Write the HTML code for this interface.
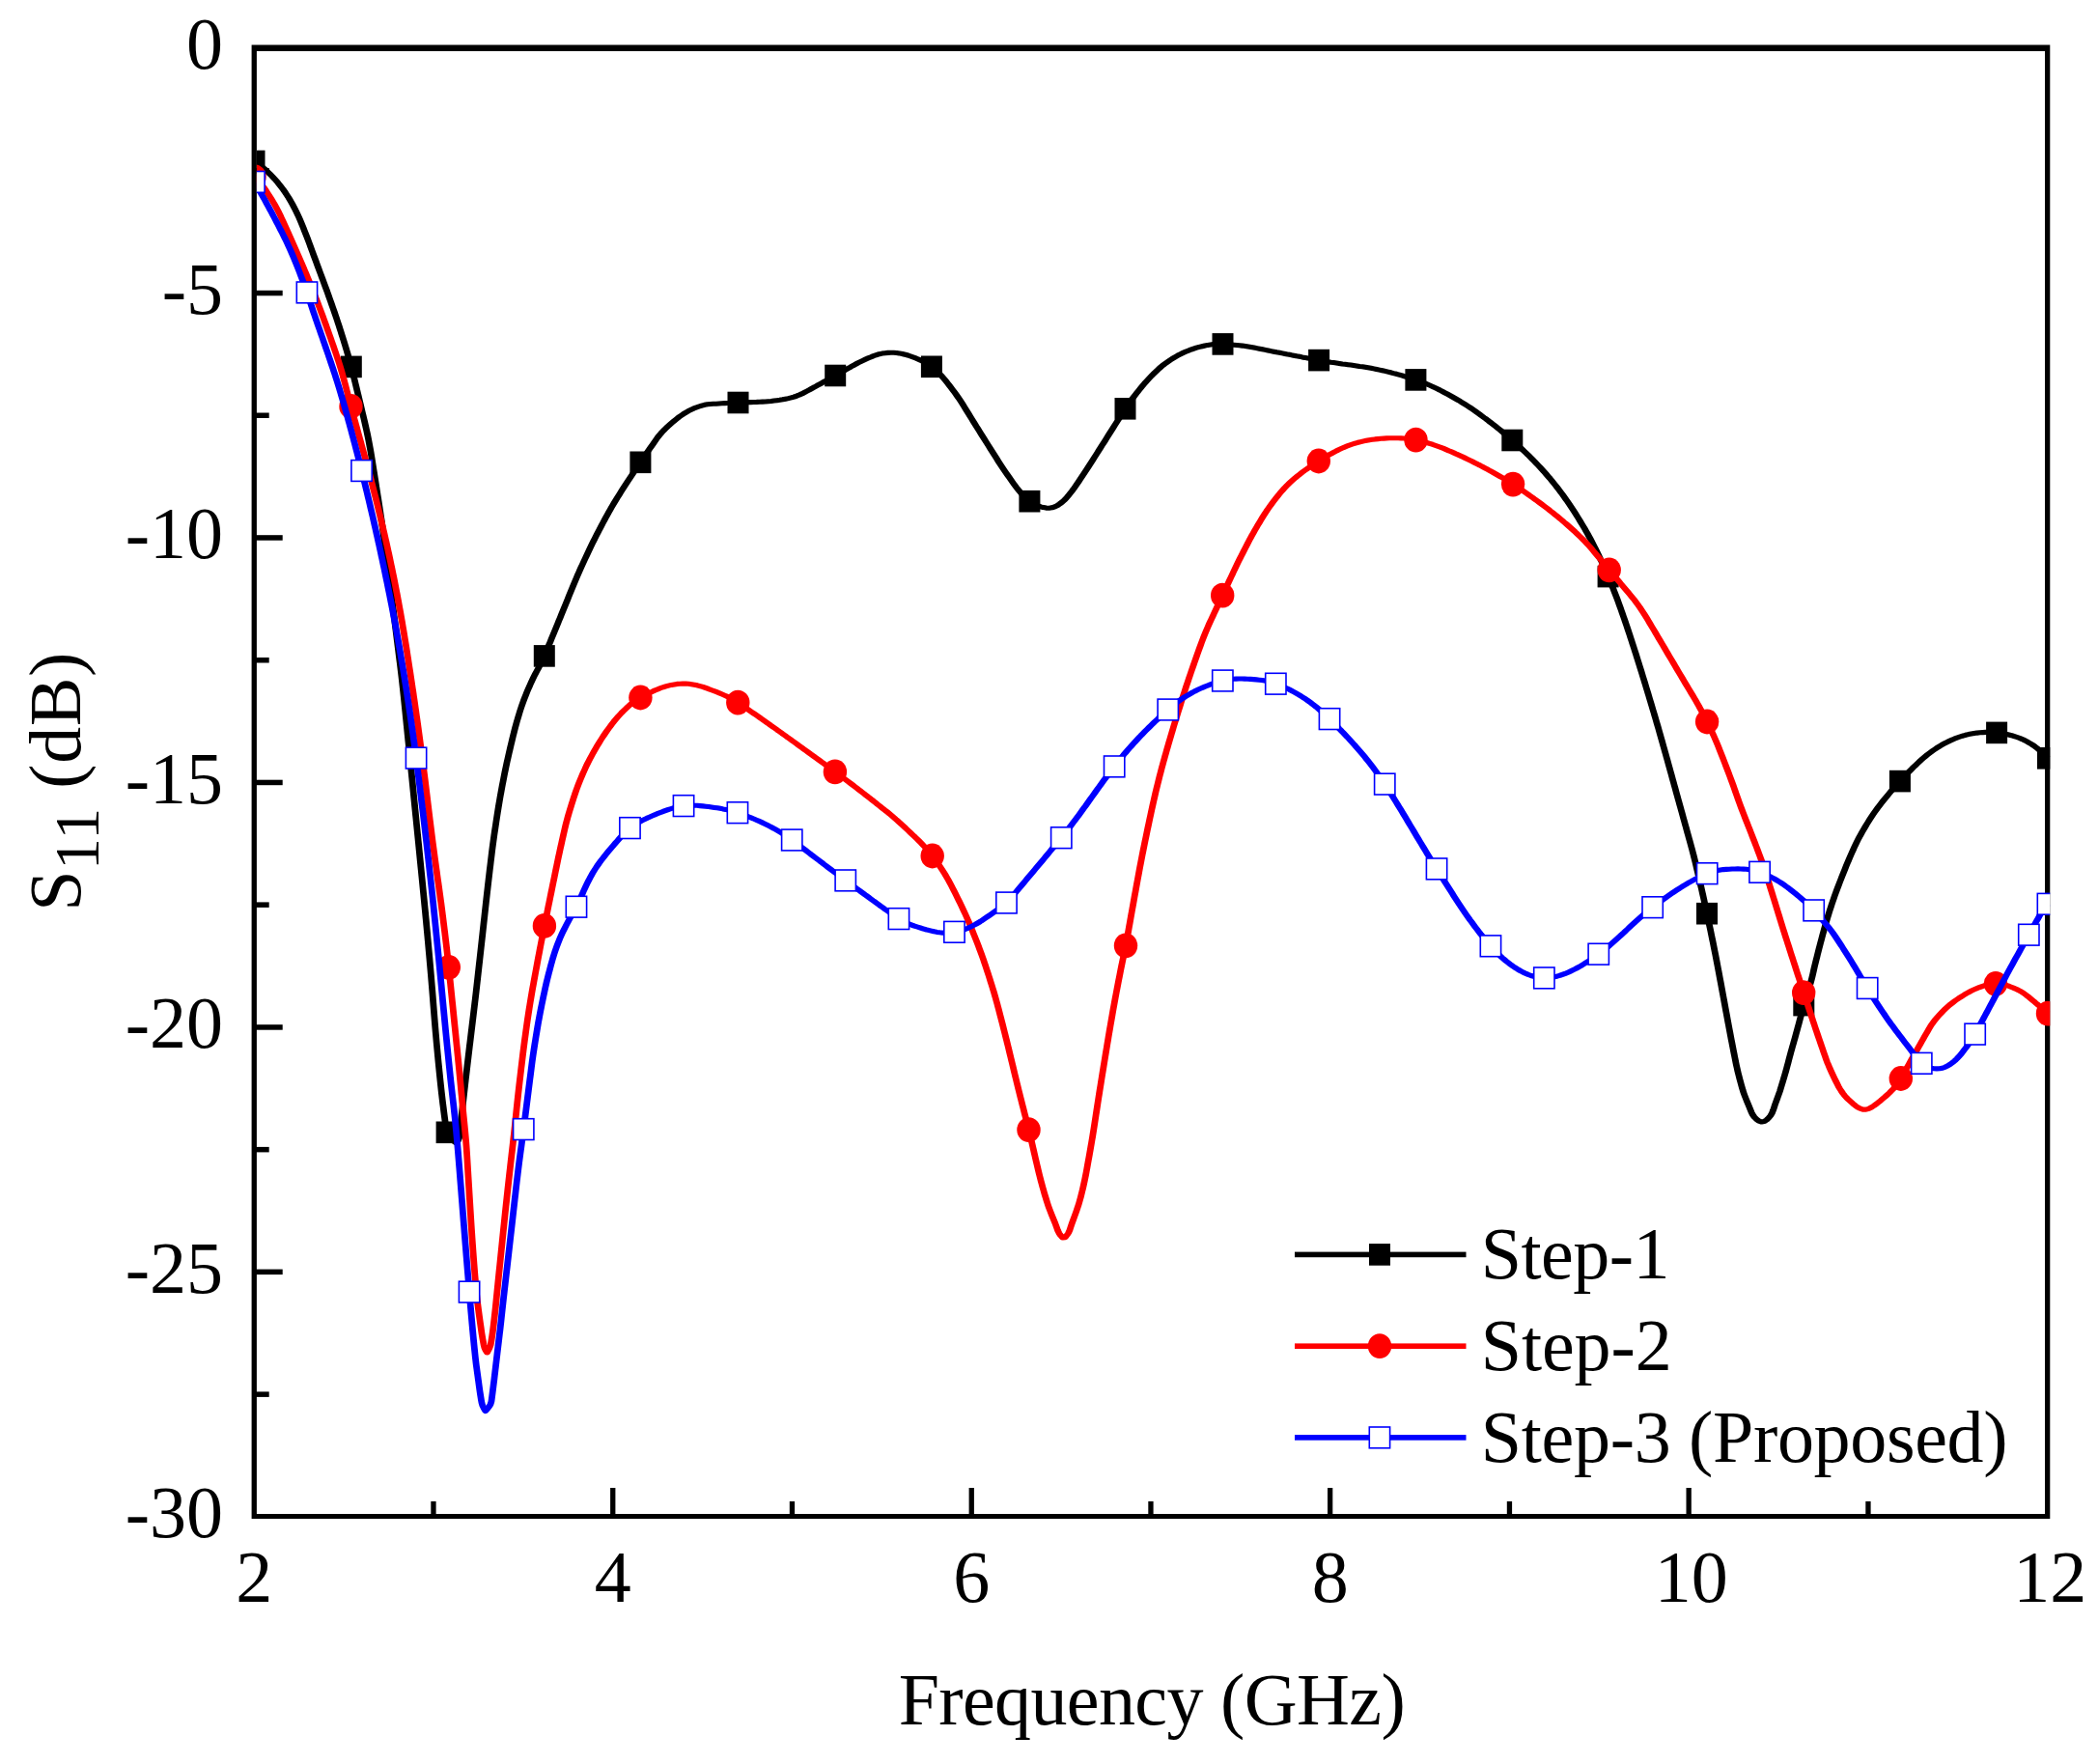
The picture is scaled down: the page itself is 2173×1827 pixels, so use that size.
<!DOCTYPE html>
<html lang="en"><head><meta charset="utf-8"><title>S11 versus Frequency</title>
<style>html,body{margin:0;padding:0;background:#fff}svg{display:block}text{font-family:"Liberation Serif", "Times New Roman", Times, serif;fill:#000}</style></head><body>
<svg xmlns="http://www.w3.org/2000/svg" width="2173" height="1827" viewBox="0 0 2173 1827">
<rect width="2173" height="1827" fill="#fff"/>
<defs><clipPath id="c"><rect x="265.9" y="46.4" width="1857.4" height="1526.6"/></clipPath></defs>
<path fill-rule="evenodd" fill="#000" d="M260.6 46.4H2123.3V1573H260.6Z M265.9 52.9V1567.9H2118V52.9Z"/>
<rect x="446.3" y="1555" width="5.3" height="15.5"/><rect x="632.1" y="1541" width="5.3" height="29.5"/><rect x="817.8" y="1555" width="5.3" height="15.5"/><rect x="1003.6" y="1541" width="5.3" height="29.5"/><rect x="1189.3" y="1555" width="5.3" height="15.5"/><rect x="1375" y="1541" width="5.3" height="29.5"/><rect x="1560.8" y="1555" width="5.3" height="15.5"/><rect x="1746.5" y="1541" width="5.3" height="29.5"/><rect x="1932.3" y="1555" width="5.3" height="15.5"/>
<rect x="263.2" y="174" width="15.5" height="5.5"/><rect x="263.2" y="300.8" width="29.5" height="5.5"/><rect x="263.2" y="427.5" width="15.5" height="5.5"/><rect x="263.2" y="554.2" width="29.5" height="5.5"/><rect x="263.2" y="681" width="15.5" height="5.5"/><rect x="263.2" y="807.7" width="29.5" height="5.5"/><rect x="263.2" y="934.4" width="15.5" height="5.5"/><rect x="263.2" y="1061.2" width="29.5" height="5.5"/><rect x="263.2" y="1187.9" width="15.5" height="5.5"/><rect x="263.2" y="1314.6" width="29.5" height="5.5"/><rect x="263.2" y="1441.4" width="15.5" height="5.5"/>
<g clip-path="url(#c)">
<g transform="scale(1.33 1)"><path d="M198.12 167 199.98 168.7 201.8 170.5 203.58 172.3 205.32 174.2 207.01 176.2 208.67 178.3 210.28 180.4 211.86 182.5 213.41 184.7 214.92 186.9 216.38 189.2 217.8 191.6 219.18 193.9 220.53 196.3 221.84 198.8 223.12 201.3 224.34 203.8 225.52 206.4 226.65 209 227.73 211.6 228.79 214.2 229.83 216.9 230.85 219.6 231.83 222.3 232.78 225 233.68 227.8 234.54 230.6 235.39 233.3 236.24 236.1 237.08 238.9 237.91 241.7 238.74 244.5 239.55 247.3 240.35 250.1 241.13 252.9 241.91 255.7 242.69 258.6 243.47 261.4 244.25 264.2 245.03 267 245.81 269.8 246.59 272.7 247.37 275.5 248.16 278.3 248.94 281.1 249.73 283.9 250.52 286.7 251.3 289.5 252.09 292.4 252.88 295.2 253.66 298 254.44 300.8 255.21 303.6 255.97 306.5 256.73 309.3 257.49 312.1 258.24 315 258.99 317.8 259.73 320.6 260.48 323.5 261.21 326.3 261.93 329.1 262.64 332 263.35 334.8 264.05 337.7 264.74 340.6 265.43 343.4 266.11 346.3 266.79 349.1 267.46 352 268.13 354.9 268.79 357.8 269.44 360.6 270.09 363.5 270.72 366.4 271.34 369.3 271.95 372.2 272.55 375.1 273.13 378 273.7 380.9 274.26 383.8 274.82 386.7 275.37 389.6 275.92 392.5 276.46 395.4 277 398.4 277.53 401.3 278.07 404.2 278.6 407.1 279.12 410 279.65 412.9 280.18 415.9 280.7 418.8 281.23 421.7 281.75 424.6 282.28 427.6 282.81 430.5 283.33 433.4 283.85 436.3 284.36 439.2 284.87 442.2 285.36 445.1 285.84 448 286.31 451 286.76 453.9 287.19 456.9 287.61 459.8 288.02 462.8 288.41 465.7 288.8 468.7 289.17 471.6 289.54 474.6 289.9 477.6 290.25 480.5 290.61 483.5 290.96 486.5 291.31 489.4 291.66 492.4 292.01 495.4 292.36 498.3 292.71 501.3 293.06 504.3 293.42 507.2 293.77 510.2 294.12 513.2 294.47 516.1 294.82 519.1 295.16 522.1 295.51 525 295.85 528 296.19 531 296.53 534 296.86 536.9 297.2 539.9 297.52 542.9 297.85 545.8 298.17 548.8 298.48 551.8 298.8 554.8 299.1 557.7 299.41 560.7 299.71 563.7 300 566.7 300.3 569.6 300.6 572.6 300.89 575.6 301.19 578.6 301.48 581.6 301.77 584.5 302.06 587.5 302.35 590.5 302.64 593.5 302.93 596.4 303.22 599.4 303.51 602.4 303.79 605.4 304.08 608.4 304.36 611.3 304.65 614.3 304.93 617.3 305.21 620.3 305.49 623.3 305.77 626.2 306.06 629.2 306.34 632.2 306.62 635.2 306.9 638.2 307.17 641.1 307.45 644.1 307.73 647.1 308.01 650.1 308.29 653.1 308.57 656 308.85 659 309.13 662 309.42 665 309.7 668 309.99 670.9 310.27 673.9 310.55 676.9 310.83 679.9 311.11 682.9 311.39 685.8 311.67 688.8 311.94 691.8 312.21 694.8 312.48 697.8 312.75 700.7 313.01 703.7 313.26 706.7 313.51 709.7 313.76 712.7 314 715.7 314.24 718.7 314.47 721.6 314.7 724.6 314.93 727.6 315.16 730.6 315.39 733.6 315.62 736.6 315.85 739.6 316.07 742.6 316.3 745.5 316.53 748.5 316.75 751.5 316.98 754.5 317.21 757.5 317.43 760.5 317.66 763.5 317.88 766.5 318.11 769.4 318.33 772.4 318.56 775.4 318.78 778.4 319 781.4 319.23 784.4 319.45 787.4 319.68 790.4 319.9 793.4 320.13 796.3 320.35 799.3 320.58 802.3 320.8 805.3 321.03 808.3 321.25 811.3 321.48 814.3 321.7 817.3 321.93 820.3 322.15 823.2 322.37 826.2 322.6 829.2 322.82 832.2 323.05 835.2 323.27 838.2 323.5 841.2 323.72 844.2 323.95 847.1 324.17 850.1 324.39 853.1 324.62 856.1 324.84 859.1 325.07 862.1 325.29 865.1 325.52 868.1 325.74 871.1 325.97 874 326.19 877 326.41 880 326.64 883 326.86 886 327.08 889 327.3 892 327.53 895 327.75 898 327.97 900.9 328.19 903.9 328.41 906.9 328.64 909.9 328.86 912.9 329.08 915.9 329.3 918.9 329.52 921.9 329.74 924.9 329.96 927.8 330.18 930.8 330.4 933.8 330.62 936.8 330.84 939.8 331.06 942.8 331.28 945.8 331.49 948.8 331.71 951.8 331.92 954.7 332.13 957.7 332.34 960.7 332.55 963.7 332.76 966.7 332.96 969.7 333.17 972.7 333.37 975.7 333.57 978.7 333.77 981.7 333.98 984.7 334.18 987.6 334.38 990.6 334.58 993.6 334.77 996.6 334.97 999.6 335.17 1002.6 335.37 1005.6 335.56 1008.6 335.76 1011.6 335.94 1014.6 336.13 1017.6 336.31 1020.6 336.5 1023.6 336.68 1026.5 336.86 1029.5 337.04 1032.5 337.21 1035.5 337.39 1038.5 337.57 1041.5 337.75 1044.5 337.93 1047.5 338.11 1050.5 338.29 1053.5 338.47 1056.5 338.65 1059.5 338.84 1062.5 339.03 1065.5 339.22 1068.5 339.42 1071.4 339.61 1074.4 339.81 1077.4 340.01 1080.4 340.22 1083.4 340.43 1086.4 340.64 1089.4 340.85 1092.4 341.06 1095.4 341.28 1098.4 341.5 1101.4 341.72 1104.3 341.95 1107.3 342.17 1110.3 342.4 1113.3 342.63 1116.3 342.86 1119.3 343.1 1122.3 343.34 1125.3 343.58 1128.2 343.83 1131.2 344.09 1134.2 344.35 1137.2 344.62 1140.2 344.89 1143.2 345.17 1146.1 345.45 1149.1 345.73 1152.1 346.02 1155.1 346.32 1158 346.61 1161 346.91 1164 347.22 1167 347.52 1170 347.82 1172.8 347.87 1172.9 349.04 1175.5 350.4 1177.9 351.92 1180.1 353.59 1182.1 355.4 1183.9 355.49 1184 356.64 1181.6 357.49 1178.8 357.77 1175.8 358.01 1172.9 358.25 1169.9 358.5 1166.9 358.75 1163.9 359 1160.9 359.26 1157.9 359.51 1154.9 359.76 1152 360.01 1149 360.26 1146 360.51 1143 360.76 1140 361.01 1137 361.27 1134.1 361.52 1131.1 361.77 1128.1 362.03 1125.1 362.28 1122.1 362.54 1119.1 362.8 1116.1 363.06 1113.2 363.32 1110.2 363.58 1107.2 363.85 1104.2 364.11 1101.2 364.38 1098.3 364.65 1095.3 364.91 1092.3 365.18 1089.3 365.45 1086.3 365.71 1083.3 365.98 1080.4 366.25 1077.4 366.52 1074.4 366.79 1071.4 367.06 1068.4 367.34 1065.5 367.61 1062.5 367.89 1059.5 368.16 1056.5 368.43 1053.5 368.7 1050.5 368.97 1047.6 369.24 1044.6 369.51 1041.6 369.78 1038.6 370.04 1035.6 370.3 1032.7 370.56 1029.7 370.82 1026.7 371.07 1023.7 371.33 1020.7 371.58 1017.7 371.84 1014.7 372.09 1011.8 372.34 1008.8 372.59 1005.8 372.84 1002.8 373.09 999.8 373.34 996.8 373.59 993.9 373.84 990.9 374.09 987.9 374.34 984.9 374.59 981.9 374.84 978.9 375.09 975.9 375.33 973 375.58 970 375.83 967 376.07 964 376.32 961 376.57 958 376.81 955 377.06 952.1 377.31 949.1 377.55 946.1 377.8 943.1 378.05 940.1 378.3 937.1 378.54 934.1 378.79 931.2 379.04 928.2 379.29 925.2 379.55 922.2 379.81 919.2 380.06 916.2 380.32 913.3 380.58 910.3 380.85 907.3 381.11 904.3 381.37 901.3 381.64 898.3 381.91 895.4 382.17 892.4 382.44 889.4 382.71 886.4 382.98 883.4 383.26 880.5 383.55 877.5 383.85 874.5 384.16 871.5 384.47 868.6 384.78 865.6 385.1 862.6 385.43 859.6 385.76 856.7 386.1 853.7 386.43 850.7 386.78 847.8 387.12 844.8 387.47 841.8 387.82 838.9 388.18 835.9 388.55 832.9 388.93 830 389.31 827 389.7 824 390.1 821.1 390.51 818.1 390.92 815.2 391.34 812.2 391.77 809.3 392.2 806.3 392.63 803.4 393.07 800.4 393.52 797.5 393.98 794.6 394.45 791.6 394.93 788.7 395.42 785.8 395.92 782.8 396.43 779.9 396.94 777 397.45 774 397.97 771.1 398.5 768.2 399.02 765.3 399.55 762.4 400.1 759.5 400.66 756.5 401.23 753.6 401.82 750.7 402.42 747.8 403.04 745 403.68 742.1 404.33 739.2 405 736.3 405.69 733.5 406.41 730.6 407.16 727.8 407.93 725 408.74 722.2 409.58 719.4 410.44 716.6 411.32 713.8 412.23 711.1 413.15 708.3 414.08 705.6 415.03 702.9 416.03 700.2 417.07 697.5 418.13 694.9 419.2 692.2 420.26 689.6 421.3 686.9 422.31 684.2 423.26 681.5 424.15 678.7 425.01 676 425.88 673.2 426.74 670.4 427.61 667.6 428.47 664.9 429.33 662.1 430.19 659.3 431.05 656.5 431.91 653.8 432.77 651 433.62 648.2 434.48 645.4 435.34 642.6 436.19 639.9 437.05 637.1 437.9 634.3 438.75 631.5 439.6 628.7 440.46 626 441.31 623.2 442.16 620.4 443.01 617.6 443.86 614.8 444.72 612 445.57 609.3 446.43 606.5 447.29 603.7 448.16 600.9 449.04 598.2 449.94 595.4 450.85 592.7 451.77 589.9 452.7 587.2 453.64 584.5 454.58 581.7 455.53 579 456.49 576.3 457.44 573.6 458.41 570.9 459.38 568.1 460.36 565.4 461.35 562.7 462.36 560 463.37 557.4 464.39 554.7 465.42 552 466.45 549.3 467.5 546.7 468.55 544 469.61 541.4 470.67 538.7 471.75 536.1 472.84 533.5 473.94 530.8 475.05 528.2 476.18 525.6 477.32 523 478.47 520.4 479.64 517.9 480.82 515.3 482.01 512.8 483.2 510.2 484.41 507.7 485.62 505.1 486.84 502.6 488.07 500.1 489.31 497.6 490.57 495.1 491.82 492.6 493.08 490.1 494.34 487.6 495.61 485.1 496.87 482.6 498.13 480.1 499.4 477.6 500.66 475.2 501.93 472.7 503.21 470.2 504.48 467.7 505.77 465.2 507.05 462.8 508.34 460.3 509.63 457.8 510.92 455.4 512.22 452.9 513.61 450.6 515.08 448.3 516.62 446.1 518.22 444 519.87 441.9 521.55 439.9 523.25 437.9 524.98 436 526.71 434.1 528.49 432.2 530.32 430.5 532.19 428.8 534.12 427.2 536.09 425.7 538.1 424.4 540.16 423.1 542.24 422 544.36 421 546.52 420.1 548.71 419.3 550.93 418.8 553.18 418.5 555.43 418.3 557.69 418.2 559.94 418 562.2 417.8 564.45 417.6 566.71 417.5 568.96 417.3 571.22 417.2 573.47 417.1 575.73 417 577.99 416.8 580.24 416.7 582.5 416.6 584.76 416.6 587.01 416.5 589.27 416.4 591.53 416.2 593.78 416.1 596.04 416 598.29 415.7 600.54 415.5 602.78 415.1 605.02 414.7 607.25 414.3 609.48 413.8 611.7 413.2 613.91 412.6 616.1 411.9 618.28 411.1 620.42 410.1 622.52 409 624.58 407.8 626.58 406.4 628.57 405 630.55 403.6 632.54 402.1 634.52 400.7 636.5 399.2 638.48 397.8 640.46 396.4 642.44 394.9 644.42 393.5 646.39 392 648.37 390.5 650.34 389.1 652.31 387.6 654.28 386.2 656.25 384.7 658.22 383.2 660.19 381.7 662.16 380.3 664.13 378.8 666.11 377.4 668.1 375.9 670.12 374.6 672.15 373.3 674.21 372 676.28 370.8 678.36 369.7 680.45 368.5 682.58 367.6 684.75 366.7 686.96 366.1 689.19 365.7 691.44 365.4 693.7 365.2 695.95 365.3 698.21 365.5 700.44 365.9 702.66 366.5 704.85 367.2 707.02 368 709.17 369 711.29 370 713.39 371.1 715.46 372.3 717.51 373.5 719.54 374.9 721.53 376.3 723.45 377.9 725.3 379.6 727.06 381.5 728.77 383.4 730.42 385.5 732.02 387.6 733.57 389.8 735.06 392.1 736.49 394.4 737.88 396.7 739.27 399.1 740.64 401.5 742.01 403.9 743.36 406.3 744.69 408.7 745.99 411.2 747.26 413.7 748.5 416.2 749.7 418.7 750.89 421.3 752.08 423.8 753.27 426.4 754.46 428.9 755.64 431.5 756.83 434 758.02 436.6 759.21 439.1 760.4 441.7 761.59 444.2 762.79 446.8 763.99 449.3 765.19 451.9 766.39 454.4 767.6 457 768.8 459.5 770 462 771.21 464.6 772.41 467.1 773.62 469.7 774.83 472.2 776.04 474.7 777.25 477.3 778.47 479.8 779.71 482.3 780.96 484.8 782.23 487.3 783.51 489.8 784.79 492.2 786.08 494.7 787.37 497.2 788.66 499.6 789.98 502.1 791.35 504.5 792.75 506.8 794.17 509.1 795.61 511.5 797.12 513.7 798.73 515.8 800.42 517.8 802.18 519.7 804.08 521.3 806.09 522.7 808.18 523.8 810.32 524.8 812.49 525.6 814.72 526.1 816.97 526.2 819.21 525.8 821.37 524.9 823.39 523.6 825.25 521.9 827.03 520.1 828.73 518.1 830.33 516 831.79 513.7 833.21 511.3 834.6 509 835.96 506.6 837.27 504.1 838.53 501.6 839.8 499.2 841.06 496.7 842.32 494.2 843.58 491.7 844.82 489.2 846.06 486.7 847.29 484.1 848.5 481.6 849.72 479.1 850.94 476.6 852.15 474 853.37 471.5 854.58 469 855.79 466.4 857 463.9 858.2 461.3 859.41 458.8 860.62 456.3 861.82 453.7 863.03 451.2 864.23 448.6 865.44 446.1 866.64 443.6 867.85 441 869.06 438.5 870.27 436 871.48 433.4 872.7 430.9 873.91 428.4 875.13 425.8 876.34 423.3 877.58 420.8 878.86 418.3 880.17 415.9 881.51 413.4 882.87 411.1 884.26 408.7 885.66 406.3 887.08 404 888.5 401.7 889.93 399.3 891.38 397 892.86 394.8 894.39 392.6 895.95 390.4 897.53 388.2 899.14 386.1 900.77 384.1 902.42 382 904.12 380 905.87 378.1 907.66 376.3 909.5 374.6 911.37 372.9 913.28 371.3 915.21 369.7 917.18 368.2 919.18 366.8 921.21 365.5 923.27 364.3 925.36 363.2 927.47 362.1 929.61 361.1 931.76 360.2 933.93 359.4 936.12 358.7 938.33 358 940.54 357.4 942.77 357 945.02 356.6 947.27 356.4 949.52 356.3 951.78 356.4 954.04 356.5 956.29 356.7 958.54 356.9 960.79 357.2 963.04 357.5 965.29 357.8 967.53 358.1 969.77 358.5 972 359 974.23 359.5 976.45 360 978.66 360.6 980.88 361.2 983.09 361.8 985.3 362.4 987.52 363 989.73 363.6 991.94 364.2 994.16 364.8 996.37 365.3 998.59 365.9 1000.81 366.5 1003.02 367.1 1005.24 367.6 1007.46 368.2 1009.68 368.8 1011.9 369.3 1014.11 369.9 1016.33 370.4 1018.55 371 1020.77 371.5 1022.99 372.1 1025.21 372.6 1027.43 373.2 1029.65 373.7 1031.88 374.2 1034.11 374.7 1036.34 375.2 1038.58 375.6 1040.81 376 1043.05 376.4 1045.28 376.9 1047.52 377.3 1049.76 377.7 1051.99 378.1 1054.23 378.5 1056.47 378.9 1058.7 379.4 1060.93 379.8 1063.16 380.3 1065.39 380.8 1067.61 381.3 1069.83 381.9 1072.04 382.5 1074.25 383.1 1076.46 383.7 1078.66 384.4 1080.86 385.1 1083.05 385.8 1085.24 386.6 1087.42 387.3 1089.6 388.1 1091.77 388.9 1093.94 389.8 1096.1 390.7 1098.25 391.6 1100.4 392.5 1102.55 393.4 1104.68 394.4 1106.8 395.4 1108.9 396.5 1110.99 397.7 1113.07 398.9 1115.13 400.1 1117.17 401.4 1119.21 402.7 1121.23 404 1123.24 405.4 1125.23 406.8 1127.22 408.2 1129.2 409.6 1131.18 411.1 1133.14 412.6 1135.1 414.1 1137.04 415.6 1138.97 417.2 1140.89 418.8 1142.79 420.4 1144.68 422 1146.55 423.7 1148.4 425.4 1150.25 427.2 1152.08 428.9 1153.91 430.7 1155.73 432.5 1157.54 434.2 1159.34 436.1 1161.13 437.9 1162.92 439.7 1164.69 441.6 1166.46 443.5 1168.21 445.3 1169.96 447.3 1171.69 449.2 1173.42 451.1 1175.13 453.1 1176.84 455 1178.53 457 1180.22 459 1181.89 461 1183.56 463.1 1185.21 465.1 1186.85 467.2 1188.48 469.3 1190.09 471.3 1191.7 473.5 1193.29 475.6 1194.87 477.7 1196.44 479.9 1197.99 482.1 1199.53 484.3 1201.05 486.5 1202.56 488.7 1204.06 491 1205.53 493.3 1207 495.5 1208.44 497.8 1209.87 500.2 1211.27 502.5 1212.66 504.9 1214.04 507.3 1215.4 509.7 1216.74 512.1 1218.06 514.5 1219.37 517 1220.67 519.4 1221.95 521.9 1223.21 524.4 1224.46 526.9 1225.69 529.4 1226.91 531.9 1228.11 534.5 1229.31 537 1230.49 539.6 1231.66 542.2 1232.82 544.7 1233.97 547.3 1235.09 549.9 1236.21 552.5 1237.3 555.2 1238.38 557.8 1239.44 560.5 1240.47 563.1 1241.49 565.8 1242.5 568.5 1243.5 571.2 1244.49 573.9 1245.46 576.6 1246.43 579.3 1247.38 582 1248.32 584.8 1249.24 587.5 1250.16 590.3 1251.06 593 1251.94 595.8 1252.82 598.5 1253.68 601.3 1254.55 604.1 1255.4 606.9 1256.25 609.6 1257.09 612.4 1257.91 615.2 1258.72 618 1259.52 620.8 1260.3 623.7 1261.06 626.5 1261.83 629.3 1262.59 632.1 1263.34 635 1264.1 637.8 1264.84 640.6 1265.58 643.5 1266.31 646.3 1267.03 649.2 1267.74 652 1268.45 654.9 1269.16 657.7 1269.86 660.6 1270.56 663.4 1271.26 666.3 1271.96 669.1 1272.65 672 1273.34 674.9 1274.03 677.7 1274.71 680.6 1275.39 683.5 1276.07 686.3 1276.74 689.2 1277.41 692.1 1278.08 694.9 1278.74 697.8 1279.41 700.7 1280.07 703.5 1280.73 706.4 1281.39 709.3 1282.05 712.2 1282.7 715 1283.36 717.9 1284.01 720.8 1284.66 723.7 1285.3 726.5 1285.95 729.4 1286.6 732.3 1287.24 735.2 1287.89 738 1288.53 740.9 1289.17 743.8 1289.81 746.7 1290.44 749.6 1291.07 752.4 1291.69 755.3 1292.31 758.2 1292.93 761.1 1293.54 764 1294.16 766.9 1294.77 769.8 1295.38 772.7 1295.99 775.6 1296.6 778.5 1297.21 781.3 1297.82 784.2 1298.42 787.1 1299.03 790 1299.64 792.9 1300.24 795.8 1300.84 798.7 1301.45 801.6 1302.05 804.5 1302.65 807.4 1303.26 810.3 1303.86 813.2 1304.46 816.1 1305.06 819 1305.67 821.9 1306.27 824.8 1306.87 827.7 1307.48 830.5 1308.08 833.4 1308.68 836.3 1309.29 839.2 1309.89 842.1 1310.49 845 1311.1 847.9 1311.7 850.8 1312.3 853.7 1312.91 856.6 1313.51 859.5 1314.11 862.4 1314.72 865.3 1315.32 868.2 1315.92 871.1 1316.53 874 1317.13 876.9 1317.72 879.8 1318.29 882.7 1318.85 885.6 1319.4 888.5 1319.94 891.4 1320.48 894.3 1321.01 897.2 1321.53 900.2 1322.05 903.1 1322.56 906 1323.08 908.9 1323.59 911.8 1324.09 914.8 1324.59 917.7 1325.09 920.6 1325.59 923.6 1326.08 926.5 1326.57 929.4 1327.06 932.4 1327.54 935.3 1328.02 938.2 1328.5 941.2 1328.97 944.1 1329.44 947 1329.91 950 1330.38 952.9 1330.85 955.9 1331.31 958.8 1331.77 961.7 1332.24 964.7 1332.69 967.6 1333.15 970.6 1333.6 973.5 1334.06 976.4 1334.5 979.4 1334.95 982.3 1335.39 985.3 1335.82 988.2 1336.26 991.2 1336.69 994.1 1337.11 997.1 1337.53 1000 1337.95 1003 1338.37 1005.9 1338.79 1008.9 1339.2 1011.8 1339.62 1014.8 1340.03 1017.7 1340.44 1020.7 1340.85 1023.6 1341.26 1026.6 1341.67 1029.5 1342.08 1032.5 1342.49 1035.4 1342.9 1038.4 1343.31 1041.4 1343.72 1044.3 1344.13 1047.3 1344.54 1050.2 1344.95 1053.2 1345.36 1056.1 1345.77 1059.1 1346.19 1062 1346.6 1065 1347.02 1067.9 1347.44 1070.9 1347.86 1073.8 1348.28 1076.8 1348.71 1079.7 1349.14 1082.7 1349.58 1085.6 1350.01 1088.6 1350.45 1091.5 1350.89 1094.5 1351.33 1097.4 1351.77 1100.4 1352.23 1103.3 1352.72 1106.2 1353.23 1109.2 1353.76 1112.1 1354.32 1115 1354.89 1117.9 1355.47 1120.8 1356.07 1123.7 1356.68 1126.6 1357.31 1129.5 1358.02 1132.3 1358.79 1135.1 1359.61 1137.9 1360.47 1140.7 1361.34 1143.5 1362.21 1146.3 1363.03 1149 1363.88 1151.8 1364.91 1154.5 1366.21 1157 1367.77 1159.1 1369.57 1160.9 1371.67 1162 1373.87 1161.5 1375.78 1159.9 1377.42 1157.8 1378.81 1155.5 1379.94 1152.9 1380.82 1150.1 1381.53 1147.3 1382.22 1144.4 1382.98 1141.6 1383.77 1138.8 1384.54 1135.9 1385.3 1133.1 1386.03 1130.3 1386.71 1127.4 1387.37 1124.5 1388.03 1121.7 1388.69 1118.8 1389.33 1115.9 1389.97 1113 1390.59 1110.1 1391.2 1107.2 1391.79 1104.3 1392.37 1101.4 1392.94 1098.5 1393.52 1095.6 1394.09 1092.7 1394.68 1089.8 1395.28 1086.9 1395.89 1084 1396.51 1081.2 1397.13 1078.3 1397.74 1075.4 1398.35 1072.5 1398.95 1069.6 1399.54 1066.7 1400.13 1063.8 1400.72 1060.9 1401.3 1058 1401.89 1055.1 1402.47 1052.2 1403.06 1049.3 1403.64 1046.4 1404.22 1043.5 1404.81 1040.6 1405.42 1037.7 1406.06 1034.8 1406.73 1031.9 1407.41 1029.1 1408.09 1026.2 1408.77 1023.4 1409.43 1020.5 1410.08 1017.6 1410.69 1014.7 1411.26 1011.8 1411.78 1008.9 1412.26 1006 1412.75 1003 1413.26 1000.1 1413.8 997.2 1414.35 994.3 1414.9 991.4 1415.45 988.4 1416.01 985.5 1416.57 982.6 1417.13 979.7 1417.7 976.8 1418.28 973.9 1418.86 971 1419.44 968.1 1420.03 965.2 1420.63 962.3 1421.23 959.4 1421.85 956.5 1422.48 953.6 1423.12 950.8 1423.78 947.9 1424.45 945 1425.13 942.2 1425.83 939.3 1426.53 936.4 1427.26 933.6 1427.99 930.8 1428.74 927.9 1429.5 925.1 1430.28 922.3 1431.07 919.5 1431.87 916.7 1432.68 913.9 1433.5 911.1 1434.33 908.3 1435.16 905.5 1436 902.7 1436.84 899.9 1437.69 897.1 1438.55 894.3 1439.42 891.6 1440.31 888.8 1441.21 886 1442.12 883.3 1443.04 880.6 1443.97 877.8 1444.92 875.1 1445.9 872.4 1446.92 869.7 1447.97 867 1449.05 864.4 1450.15 861.8 1451.28 859.2 1452.43 856.6 1453.59 854 1454.78 851.5 1455.98 848.9 1457.21 846.4 1458.47 843.9 1459.75 841.4 1461.06 839 1462.39 836.6 1463.75 834.2 1465.14 831.8 1466.54 829.4 1467.95 827.1 1469.38 824.8 1470.83 822.5 1472.28 820.2 1473.76 817.9 1475.24 815.6 1476.73 813.4 1478.24 811.1 1479.75 808.9 1481.28 806.7 1482.83 804.5 1484.39 802.3 1485.96 800.2 1487.55 798.1 1489.15 795.9 1490.76 793.8 1492.39 791.8 1494.02 789.7 1495.67 787.6 1497.36 785.6 1499.09 783.7 1500.85 781.8 1502.64 780 1504.45 778.2 1506.29 776.5 1508.16 774.8 1510.07 773.2 1512.01 771.6 1513.99 770.2 1515.99 768.8 1518.03 767.5 1520.08 766.3 1522.16 765.1 1524.26 764 1526.39 763 1528.55 762.1 1530.73 761.3 1532.93 760.6 1535.14 760.1 1537.37 759.6 1539.61 759.1 1541.85 758.8 1544.1 758.6 1546.36 758.4 1548.62 758.4 1550.87 758.5 1553.13 758.7 1555.38 758.9 1557.62 759.3 1559.85 759.8 1562.07 760.3 1564.27 761 1566.46 761.7 1568.63 762.6 1570.77 763.5 1572.89 764.5 1574.98 765.7 1577.02 767 1579.02 768.4 1580.97 769.9 1582.87 771.5 1584.72 773.2 1586.52 775 1588.27 776.9 1589.97 778.9 1591.61 781 1593.2 783.1 1594.74 785.3" fill="none" stroke="#000" stroke-width="5.1" stroke-linejoin="round"/></g>
<rect x="252.5" y="155.7" width="22.0" height="22.6" fill="#000"/><rect x="352.8" y="368.6" width="22.0" height="22.6" fill="#000"/><rect x="451.6" y="1161.5" width="22.0" height="22.6" fill="#000"/><rect x="552.8" y="668.1" width="22.0" height="22.6" fill="#000"/><rect x="652.4" y="467.5" width="22.0" height="22.6" fill="#000"/><rect x="753.5" y="405.7" width="22.0" height="22.6" fill="#000"/><rect x="854.2" y="377.7" width="22.0" height="22.6" fill="#000"/><rect x="953.9" y="368.5" width="22.0" height="22.6" fill="#000"/><rect x="1055.4" y="507.9" width="22.0" height="22.6" fill="#000"/><rect x="1154.5" y="412" width="22.0" height="22.6" fill="#000"/><rect x="1255.5" y="345.1" width="22.0" height="22.6" fill="#000"/><rect x="1355.1" y="361.8" width="22.0" height="22.6" fill="#000"/><rect x="1455.4" y="382.1" width="22.0" height="22.6" fill="#000"/><rect x="1555.3" y="444.7" width="22.0" height="22.6" fill="#000"/><rect x="1654.6" y="585.8" width="22.0" height="22.6" fill="#000"/><rect x="1757" y="934.9" width="22.0" height="22.6" fill="#000"/><rect x="1857.3" y="1029.8" width="22.0" height="22.6" fill="#000"/><rect x="1956.9" y="797.8" width="22.0" height="22.6" fill="#000"/><rect x="2057.1" y="747.6" width="22.0" height="22.6" fill="#000"/><rect x="2110" y="774" width="22.0" height="22.6" fill="#000"/>
<g transform="scale(1.33 1)"><path d="M198.12 183 199.68 185.2 201.21 187.4 202.7 189.6 204.13 192 205.5 194.3 206.8 196.8 208.04 199.3 209.27 201.8 210.48 204.4 211.66 206.9 212.82 209.5 213.96 212.1 215.06 214.7 216.12 217.4 217.15 220 218.13 222.7 219.08 225.5 220.02 228.2 220.96 230.9 221.89 233.6 222.83 236.4 223.76 239.1 224.69 241.9 225.61 244.6 226.53 247.3 227.44 250.1 228.35 252.8 229.26 255.6 230.17 258.3 231.08 261.1 231.98 263.8 232.89 266.6 233.79 269.3 234.69 272.1 235.58 274.8 236.47 277.6 237.35 280.4 238.23 283.1 239.1 285.9 239.97 288.7 240.82 291.4 241.68 294.2 242.52 297 243.36 299.8 244.2 302.6 245.02 305.4 245.85 308.2 246.66 311 247.47 313.8 248.27 316.6 249.07 319.4 249.86 322.2 250.64 325 251.42 327.8 252.19 330.7 252.96 333.5 253.73 336.3 254.49 339.1 255.25 342 256.01 344.8 256.77 347.6 257.52 350.4 258.27 353.3 259.02 356.1 259.76 358.9 260.5 361.8 261.23 364.6 261.95 367.5 262.67 370.3 263.38 373.2 264.07 376 264.74 378.9 265.4 381.8 266.04 384.6 266.66 387.5 267.27 390.4 267.87 393.3 268.45 396.2 269.03 399.1 269.59 402 270.16 404.9 270.72 407.8 271.28 410.7 271.85 413.6 272.42 416.5 273 419.4 273.58 422.3 274.17 425.2 274.76 428.1 275.36 431 275.95 433.9 276.55 436.8 277.15 439.7 277.75 442.6 278.35 445.5 278.96 448.4 279.56 451.3 280.17 454.2 280.77 457.1 281.37 460 281.97 462.9 282.58 465.8 283.18 468.7 283.78 471.5 284.37 474.4 284.97 477.3 285.56 480.2 286.16 483.1 286.74 486 287.33 488.9 287.91 491.8 288.49 494.7 289.06 497.6 289.63 500.5 290.2 503.4 290.77 506.4 291.33 509.3 291.88 512.2 292.44 515.1 292.99 518 293.53 520.9 294.08 523.8 294.62 526.7 295.16 529.7 295.69 532.6 296.22 535.5 296.75 538.4 297.27 541.3 297.79 544.2 298.31 547.2 298.82 550.1 299.33 553 299.83 555.9 300.34 558.9 300.84 561.8 301.33 564.7 301.82 567.7 302.31 570.6 302.79 573.5 303.27 576.5 303.74 579.4 304.21 582.3 304.67 585.3 305.13 588.2 305.59 591.1 306.04 594.1 306.49 597 306.94 600 307.38 602.9 307.81 605.9 308.25 608.8 308.67 611.8 309.1 614.7 309.52 617.7 309.94 620.6 310.35 623.6 310.76 626.5 311.16 629.5 311.56 632.4 311.96 635.4 312.35 638.3 312.74 641.3 313.13 644.2 313.51 647.2 313.89 650.2 314.26 653.1 314.64 656.1 315 659 315.37 662 315.73 665 316.08 667.9 316.44 670.9 316.79 673.9 317.13 676.8 317.48 679.8 317.83 682.8 318.17 685.7 318.51 688.7 318.85 691.7 319.2 694.6 319.54 697.6 319.87 700.6 320.21 703.5 320.55 706.5 320.88 709.5 321.21 712.5 321.55 715.4 321.88 718.4 322.2 721.4 322.53 724.3 322.86 727.3 323.18 730.3 323.5 733.2 323.83 736.2 324.14 739.2 324.46 742.2 324.78 745.1 325.09 748.1 325.41 751.1 325.72 754.1 326.02 757 326.33 760 326.64 763 326.94 766 327.24 768.9 327.54 771.9 327.84 774.9 328.13 777.9 328.43 780.8 328.72 783.8 329.01 786.8 329.29 789.8 329.58 792.7 329.86 795.7 330.14 798.7 330.42 801.7 330.7 804.7 330.98 807.6 331.25 810.6 331.53 813.6 331.8 816.6 332.07 819.6 332.35 822.5 332.62 825.5 332.89 828.5 333.16 831.5 333.44 834.5 333.71 837.4 333.98 840.4 334.26 843.4 334.53 846.4 334.81 849.4 335.08 852.3 335.36 855.3 335.64 858.3 335.92 861.3 336.2 864.3 336.49 867.2 336.77 870.2 337.06 873.2 337.35 876.2 337.65 879.1 337.94 882.1 338.25 885.1 338.55 888.1 338.86 891 339.17 894 339.48 897 339.79 900 340.11 902.9 340.42 905.9 340.74 908.9 341.05 911.9 341.37 914.8 341.68 917.8 341.99 920.8 342.3 923.7 342.61 926.7 342.92 929.7 343.22 932.7 343.52 935.6 343.81 938.6 344.1 941.6 344.39 944.6 344.67 947.6 344.96 950.5 345.24 953.5 345.52 956.5 345.8 959.5 346.08 962.4 346.36 965.4 346.63 968.4 346.9 971.4 347.17 974.4 347.43 977.4 347.69 980.3 347.95 983.3 348.2 986.3 348.46 989.3 348.7 992.3 348.95 995.3 349.19 998.2 349.42 1001.2 349.65 1004.2 349.88 1007.2 350.12 1010.2 350.35 1013.2 350.58 1016.2 350.81 1019.1 351.04 1022.1 351.27 1025.1 351.5 1028.1 351.73 1031.1 351.96 1034.1 352.19 1037.1 352.42 1040 352.65 1043 352.88 1046 353.11 1049 353.33 1052 353.56 1055 353.79 1058 354.02 1061 354.25 1063.9 354.48 1066.9 354.71 1069.9 354.94 1072.9 355.16 1075.9 355.39 1078.9 355.62 1081.9 355.85 1084.8 356.08 1087.8 356.3 1090.8 356.53 1093.8 356.76 1096.8 356.98 1099.8 357.21 1102.8 357.43 1105.8 357.65 1108.7 357.87 1111.7 358.09 1114.7 358.3 1117.7 358.51 1120.7 358.73 1123.7 358.94 1126.7 359.15 1129.7 359.36 1132.7 359.58 1135.6 359.79 1138.6 360 1141.6 360.21 1144.6 360.43 1147.6 360.64 1150.6 360.86 1153.6 361.08 1156.6 361.3 1159.5 361.52 1162.5 361.74 1165.5 361.96 1168.5 362.17 1171.5 362.38 1174.5 362.58 1177.5 362.78 1180.5 362.97 1183.5 363.15 1186.5 363.31 1189.4 363.47 1192.4 363.62 1195.4 363.76 1198.4 363.9 1201.4 364.03 1204.4 364.17 1207.4 364.3 1210.4 364.44 1213.4 364.57 1216.4 364.71 1219.4 364.85 1222.4 364.99 1225.4 365.13 1228.4 365.27 1231.4 365.4 1234.4 365.54 1237.4 365.68 1240.4 365.82 1243.4 365.96 1246.4 366.1 1249.4 366.24 1252.4 366.38 1255.4 366.52 1258.4 366.66 1261.4 366.8 1264.4 366.94 1267.4 367.09 1270.4 367.24 1273.3 367.39 1276.3 367.54 1279.3 367.69 1282.3 367.85 1285.3 368.01 1288.3 368.17 1291.3 368.33 1294.3 368.49 1297.3 368.66 1300.3 368.83 1303.3 369 1306.3 369.17 1309.3 369.35 1312.3 369.53 1315.3 369.71 1318.3 369.89 1321.3 370.08 1324.2 370.27 1327.2 370.46 1330.2 370.66 1333.2 370.85 1336.2 371.05 1339.2 371.28 1342.2 371.53 1345.2 371.8 1348.2 372.07 1351.1 372.36 1354.1 372.65 1357.1 372.95 1360.1 373.25 1363 373.56 1366 373.88 1369 374.2 1372 374.52 1374.9 374.84 1377.9 375.16 1380.9 375.51 1383.8 375.88 1386.8 376.29 1389.7 376.72 1392.7 377.25 1395.6 378.16 1398.4 379.3 1400.9 379.32 1401 380.38 1398.4 381.34 1395.7 382.05 1392.9 382.47 1389.9 382.84 1386.9 383.19 1384 383.52 1381 383.83 1378 384.12 1375.1 384.38 1372.1 384.63 1369.1 384.89 1366.1 385.15 1363.1 385.4 1360.1 385.65 1357.2 385.89 1354.2 386.12 1351.2 386.35 1348.2 386.57 1345.2 386.8 1342.2 387.03 1339.2 387.25 1336.3 387.48 1333.3 387.71 1330.3 387.93 1327.3 388.16 1324.3 388.39 1321.3 388.62 1318.3 388.85 1315.3 389.08 1312.4 389.31 1309.4 389.54 1306.4 389.77 1303.4 390 1300.4 390.23 1297.4 390.46 1294.4 390.69 1291.5 390.92 1288.5 391.15 1285.5 391.38 1282.5 391.61 1279.5 391.84 1276.5 392.07 1273.5 392.31 1270.5 392.54 1267.6 392.77 1264.6 393 1261.6 393.24 1258.6 393.47 1255.6 393.71 1252.6 393.95 1249.6 394.19 1246.7 394.43 1243.7 394.68 1240.7 394.92 1237.7 395.17 1234.7 395.41 1231.7 395.66 1228.8 395.91 1225.8 396.16 1222.8 396.41 1219.8 396.66 1216.8 396.91 1213.8 397.16 1210.9 397.41 1207.9 397.66 1204.9 397.92 1201.9 398.18 1198.9 398.44 1195.9 398.7 1193 398.96 1190 399.22 1187 399.48 1184 399.73 1181 399.98 1178 400.23 1175.1 400.47 1172.1 400.71 1169.1 400.95 1166.1 401.18 1163.1 401.41 1160.1 401.65 1157.1 401.88 1154.2 402.11 1151.2 402.34 1148.2 402.58 1145.2 402.81 1142.2 403.06 1139.2 403.3 1136.2 403.55 1133.3 403.8 1130.3 404.06 1127.3 404.31 1124.3 404.57 1121.3 404.83 1118.3 405.09 1115.4 405.35 1112.4 405.62 1109.4 405.88 1106.4 406.15 1103.4 406.42 1100.5 406.69 1097.5 406.96 1094.5 407.23 1091.5 407.51 1088.5 407.8 1085.6 408.09 1082.6 408.38 1079.6 408.67 1076.6 408.97 1073.7 409.28 1070.7 409.58 1067.7 409.9 1064.7 410.21 1061.8 410.53 1058.8 410.85 1055.8 411.19 1052.8 411.52 1049.9 411.87 1046.9 412.22 1043.9 412.58 1041 412.94 1038 413.31 1035.1 413.68 1032.1 414.07 1029.1 414.45 1026.2 414.85 1023.2 415.25 1020.3 415.65 1017.3 416.06 1014.4 416.47 1011.4 416.87 1008.5 417.28 1005.5 417.69 1002.6 418.11 999.6 418.52 996.6 418.93 993.7 419.35 990.7 419.77 987.8 420.19 984.8 420.61 981.9 421.04 979 421.47 976 421.9 973.1 422.33 970.1 422.76 967.2 423.2 964.2 423.64 961.3 424.09 958.3 424.53 955.4 424.98 952.4 425.42 949.5 425.87 946.6 426.32 943.6 426.76 940.7 427.21 937.7 427.66 934.8 428.11 931.8 428.56 928.9 429.01 926 429.46 923 429.91 920.1 430.36 917.1 430.82 914.2 431.27 911.3 431.73 908.3 432.18 905.4 432.63 902.4 433.09 899.5 433.54 896.6 434 893.6 434.46 890.7 434.92 887.7 435.39 884.8 435.87 881.9 436.35 878.9 436.84 876 437.33 873.1 437.82 870.1 438.32 867.2 438.82 864.3 439.33 861.4 439.83 858.4 440.35 855.5 440.9 852.6 441.47 849.7 442.06 846.8 442.68 843.9 443.31 841 443.96 838.1 444.62 835.3 445.29 832.4 445.98 829.6 446.67 826.7 447.37 823.8 448.09 821 448.84 818.2 449.61 815.3 450.41 812.5 451.24 809.7 452.09 807 452.96 804.2 453.86 801.4 454.77 798.7 455.7 796 456.66 793.2 457.65 790.5 458.67 787.9 459.71 785.2 460.78 782.6 461.87 779.9 462.99 777.3 464.12 774.7 465.26 772.1 466.43 769.6 467.61 767 468.83 764.5 470.07 762 471.34 759.5 472.63 757 473.94 754.6 475.28 752.2 476.64 749.8 478.02 747.4 479.44 745.1 480.91 742.8 482.43 740.6 483.98 738.4 485.57 736.3 487.19 734.2 488.84 732.1 490.51 730.1 492.27 728.2 494.09 726.4 495.98 724.8 497.91 723.2 499.87 721.7 501.85 720.3 503.84 718.9 505.86 717.6 507.9 716.3 509.96 715 512.04 713.9 514.15 712.8 516.28 711.8 518.44 710.9 520.61 710.1 522.81 709.4 525.03 708.9 527.26 708.4 529.51 708.2 531.76 708 534.02 708.1 536.27 708.3 538.51 708.7 540.73 709.2 542.94 709.8 545.12 710.6 547.29 711.4 549.43 712.4 551.56 713.4 553.66 714.5 555.77 715.5 557.87 716.6 559.97 717.7 562.06 718.9 564.13 720.1 566.18 721.3 568.21 722.6 570.21 724 572.16 725.5 574.07 727.1 575.94 728.8 577.8 730.5 579.66 732.2 581.53 733.9 583.38 735.6 585.24 737.3 587.1 739 588.96 740.7 590.81 742.4 592.66 744.2 594.51 745.9 596.36 747.6 598.21 749.3 600.05 751.1 601.9 752.8 603.74 754.5 605.58 756.3 607.41 758 609.25 759.8 611.08 761.5 612.91 763.3 614.74 765 616.58 766.8 618.41 768.5 620.24 770.3 622.07 772.1 623.89 773.8 625.72 775.6 627.55 777.3 629.38 779.1 631.21 780.9 633.04 782.6 634.86 784.4 636.69 786.1 638.52 787.9 640.34 789.7 642.17 791.4 643.99 793.2 645.81 795 647.63 796.8 649.46 798.5 651.27 800.3 653.09 802.1 654.9 803.9 656.71 805.7 658.52 807.5 660.32 809.3 662.13 811.1 663.92 812.9 665.72 814.7 667.51 816.5 669.3 818.4 671.09 820.2 672.87 822 674.65 823.9 676.43 825.7 678.21 827.6 679.98 829.4 681.76 831.3 683.53 833.2 685.29 835 687.06 836.9 688.83 838.8 690.59 840.6 692.35 842.5 694.08 844.4 695.81 846.4 697.51 848.4 699.2 850.3 700.88 852.4 702.55 854.4 704.21 856.4 705.86 858.5 707.5 860.5 709.14 862.6 710.78 864.7 712.41 866.7 714.04 868.8 715.64 870.9 717.23 873 718.79 875.2 720.33 877.4 721.84 879.6 723.31 881.9 724.76 884.2 726.17 886.6 727.55 888.9 728.9 891.4 730.21 893.8 731.49 896.3 732.74 898.8 733.97 901.3 735.16 903.8 736.32 906.4 737.46 909 738.57 911.6 739.66 914.2 740.73 916.9 741.77 919.6 742.8 922.2 743.81 924.9 744.83 927.6 745.83 930.3 746.82 933 747.81 935.7 748.79 938.4 749.75 941.1 750.71 943.8 751.65 946.5 752.58 949.3 753.49 952 754.4 954.8 755.28 957.5 756.16 960.3 757.01 963.1 757.85 965.9 758.69 968.7 759.52 971.4 760.35 974.2 761.17 977 761.97 979.8 762.77 982.7 763.56 985.5 764.34 988.3 765.1 991.1 765.85 993.9 766.58 996.8 767.3 999.6 768.01 1002.5 768.71 1005.3 769.41 1008.2 770.11 1011 770.8 1013.9 771.48 1016.8 772.16 1019.6 772.82 1022.5 773.48 1025.4 774.13 1028.2 774.76 1031.1 775.39 1034 776 1036.9 776.59 1039.8 777.17 1042.7 777.75 1045.6 778.32 1048.5 778.89 1051.4 779.45 1054.3 780.02 1057.2 780.58 1060.1 781.14 1063 781.7 1065.9 782.25 1068.9 782.8 1071.8 783.35 1074.7 783.9 1077.6 784.44 1080.5 784.98 1083.4 785.52 1086.3 786.05 1089.3 786.59 1092.2 787.12 1095.1 787.64 1098 788.17 1100.9 788.7 1103.8 789.23 1106.8 789.76 1109.7 790.28 1112.6 790.81 1115.5 791.35 1118.4 791.88 1121.4 792.42 1124.3 792.96 1127.2 793.5 1130.1 794.05 1133 794.6 1135.9 795.15 1138.8 795.71 1141.7 796.27 1144.7 796.83 1147.6 797.39 1150.5 797.95 1153.4 798.51 1156.3 799.07 1159.2 799.63 1162.1 800.18 1165 800.74 1167.9 801.28 1170.8 801.82 1173.7 802.36 1176.7 802.88 1179.6 803.4 1182.5 803.91 1185.4 804.42 1188.4 804.93 1191.3 805.43 1194.2 805.94 1197.1 806.45 1200.1 806.96 1203 807.47 1205.9 807.99 1208.8 808.51 1211.7 809.05 1214.7 809.59 1217.6 810.15 1220.5 810.72 1223.4 811.3 1226.3 811.89 1229.2 812.5 1232.1 813.12 1235 813.75 1237.9 814.4 1240.7 815.07 1243.6 815.76 1246.5 816.47 1249.3 817.24 1252.1 818.04 1254.9 818.87 1257.7 819.71 1260.5 820.56 1263.3 821.42 1266.1 822.25 1268.9 822.99 1271.7 823.77 1274.5 824.76 1277.2 826.06 1279.7 827.5 1282 829.44 1281.7 830.84 1279.3 832.09 1276.8 833.03 1274.1 833.75 1271.2 834.44 1268.4 835.21 1265.5 835.98 1262.7 836.76 1259.9 837.52 1257.1 838.27 1254.3 839 1251.4 839.71 1248.6 840.38 1245.7 841 1242.8 841.59 1239.9 842.15 1237 842.69 1234.1 843.22 1231.2 843.73 1228.2 844.23 1225.3 844.7 1222.4 845.16 1219.4 845.6 1216.5 846.02 1213.5 846.42 1210.6 846.82 1207.6 847.22 1204.7 847.62 1201.7 848.02 1198.8 848.42 1195.8 848.81 1192.9 849.21 1189.9 849.59 1186.9 849.98 1184 850.35 1181 850.73 1178.1 851.09 1175.1 851.45 1172.1 851.8 1169.2 852.15 1166.2 852.5 1163.2 852.84 1160.3 853.19 1157.3 853.53 1154.3 853.87 1151.4 854.21 1148.4 854.55 1145.4 854.89 1142.5 855.24 1139.5 855.58 1136.5 855.93 1133.6 856.28 1130.6 856.64 1127.6 857 1124.7 857.36 1121.7 857.71 1118.7 858.07 1115.8 858.43 1112.8 858.79 1109.9 859.16 1106.9 859.52 1103.9 859.88 1101 860.25 1098 860.61 1095 860.97 1092.1 861.34 1089.1 861.71 1086.2 862.07 1083.2 862.44 1080.2 862.82 1077.3 863.19 1074.3 863.57 1071.3 863.94 1068.4 864.32 1065.4 864.7 1062.5 865.09 1059.5 865.47 1056.6 865.86 1053.6 866.25 1050.6 866.64 1047.7 867.03 1044.7 867.43 1041.8 867.83 1038.8 868.24 1035.9 868.65 1032.9 869.07 1030 869.49 1027 869.91 1024.1 870.34 1021.1 870.77 1018.2 871.2 1015.2 871.63 1012.3 872.07 1009.3 872.5 1006.4 872.94 1003.4 873.38 1000.5 873.83 997.6 874.3 994.6 874.79 991.7 875.27 988.8 875.75 985.8 876.22 982.9 876.65 979.9 877.05 977 877.45 974 877.85 971.1 878.24 968.1 878.63 965.2 879.02 962.2 879.41 959.2 879.8 956.3 880.19 953.3 880.58 950.4 880.98 947.4 881.38 944.5 881.78 941.5 882.18 938.6 882.58 935.6 882.98 932.6 883.38 929.7 883.78 926.7 884.19 923.8 884.59 920.8 884.99 917.9 885.4 914.9 885.8 912 886.21 909 886.62 906.1 887.03 903.1 887.44 900.2 887.86 897.2 888.28 894.3 888.7 891.3 889.14 888.4 889.57 885.4 890.01 882.5 890.46 879.5 890.9 876.6 891.36 873.6 891.81 870.7 892.27 867.8 892.73 864.8 893.19 861.9 893.65 858.9 894.12 856 894.58 853.1 895.05 850.1 895.52 847.2 895.99 844.3 896.46 841.3 896.94 838.4 897.43 835.5 897.92 832.5 898.42 829.6 898.92 826.7 899.43 823.7 899.94 820.8 900.46 817.9 900.99 815 901.53 812.1 902.07 809.2 902.62 806.2 903.18 803.3 903.75 800.4 904.32 797.5 904.9 794.6 905.49 791.7 906.09 788.8 906.69 785.9 907.29 783 907.91 780.2 908.52 777.3 909.15 774.4 909.77 771.5 910.4 768.6 911.04 765.7 911.68 762.9 912.32 760 912.96 757.1 913.61 754.2 914.26 751.3 914.91 748.5 915.57 745.6 916.23 742.7 916.89 739.9 917.56 737 918.23 734.1 918.9 731.3 919.57 728.4 920.25 725.5 920.93 722.7 921.62 719.8 922.32 717 923.02 714.1 923.72 711.2 924.43 708.4 925.15 705.6 925.87 702.7 926.6 699.9 927.33 697 928.06 694.2 928.8 691.3 929.54 688.5 930.29 685.7 931.03 682.8 931.79 680 932.54 677.2 933.29 674.4 934.06 671.5 934.83 668.7 935.61 665.9 936.4 663.1 937.22 660.3 938.05 657.5 938.9 654.7 939.77 651.9 940.67 649.2 941.59 646.4 942.54 643.7 943.49 641 944.43 638.3 945.38 635.5 946.34 632.8 947.29 630.1 948.24 627.4 949.2 624.7 950.15 621.9 951.11 619.2 952.06 616.5 953.02 613.8 953.98 611.1 954.93 608.3 955.89 605.6 956.85 602.9 957.81 600.2 958.76 597.5 959.72 594.8 960.68 592 961.64 589.3 962.62 586.6 963.6 583.9 964.6 581.2 965.6 578.5 966.62 575.8 967.64 573.2 968.67 570.5 969.69 567.8 970.72 565.2 971.76 562.5 972.8 559.8 973.87 557.2 974.96 554.5 976.07 551.9 977.18 549.3 978.32 546.7 979.46 544.1 980.61 541.6 981.77 539 982.94 536.4 984.13 533.9 985.35 531.3 986.6 528.8 987.89 526.4 989.2 523.9 990.53 521.5 991.89 519.1 993.27 516.7 994.67 514.4 996.08 512 997.52 509.7 999 507.5 1000.52 505.2 1002.08 503.1 1003.68 500.9 1005.32 498.9 1007 496.9 1008.71 494.9 1010.46 493 1012.23 491.2 1014.02 489.3 1015.83 487.5 1017.66 485.8 1019.51 484.1 1021.37 482.4 1023.25 480.7 1025.14 479 1027.04 477.4 1028.95 475.8 1030.87 474.3 1032.82 472.7 1034.77 471.2 1036.75 469.8 1038.74 468.4 1040.75 467 1042.77 465.7 1044.81 464.4 1046.88 463.2 1048.97 462.1 1051.09 461 1053.22 460 1055.38 459.1 1057.55 458.3 1059.73 457.6 1061.93 456.9 1064.14 456.3 1066.36 455.7 1068.59 455.3 1070.83 454.9 1073.07 454.6 1075.32 454.3 1077.58 454.1 1079.83 453.9 1082.09 453.8 1084.34 453.8 1086.6 453.8 1088.86 453.8 1091.11 453.9 1093.37 454 1095.62 454.3 1097.86 454.6 1100.09 455.1 1102.31 455.6 1104.51 456.3 1106.71 456.9 1108.9 457.7 1111.07 458.5 1113.24 459.3 1115.4 460.2 1117.54 461.2 1119.67 462.2 1121.78 463.2 1123.88 464.3 1125.97 465.5 1128.04 466.7 1130.11 467.8 1132.18 469 1134.25 470.3 1136.31 471.5 1138.36 472.7 1140.41 474 1142.45 475.3 1144.48 476.6 1146.5 477.9 1148.51 479.3 1150.52 480.7 1152.53 482 1154.53 483.4 1156.53 484.8 1158.52 486.2 1160.5 487.7 1162.48 489.1 1164.45 490.6 1166.41 492.1 1168.37 493.6 1170.31 495.1 1172.25 496.6 1174.18 498.2 1176.1 499.8 1178.02 501.3 1179.92 503 1181.81 504.6 1183.69 506.3 1185.56 507.9 1187.42 509.6 1189.28 511.3 1191.13 513.1 1192.97 514.8 1194.8 516.6 1196.63 518.3 1198.46 520.1 1200.27 521.9 1202.08 523.7 1203.88 525.5 1205.67 527.3 1207.45 529.2 1209.22 531 1210.98 532.9 1212.73 534.8 1214.47 536.7 1216.2 538.6 1217.92 540.6 1219.63 542.5 1221.32 544.5 1223.01 546.5 1224.69 548.5 1226.36 550.5 1228.01 552.6 1229.64 554.7 1231.26 556.8 1232.86 558.9 1234.43 561 1235.98 563.2 1237.5 565.4 1239 567.7 1240.46 570 1241.91 572.3 1243.36 574.6 1244.8 576.9 1246.25 579.2 1247.69 581.5 1249.13 583.8 1250.58 586.1 1252.02 588.4 1253.47 590.7 1254.92 593 1256.37 595.3 1257.83 597.6 1259.28 599.9 1260.74 602.2 1262.19 604.5 1263.65 606.8 1265.1 609.1 1266.55 611.4 1268 613.7 1269.45 616 1270.89 618.3 1272.31 620.6 1273.69 623 1275.04 625.4 1276.36 627.9 1277.65 630.3 1278.91 632.8 1280.15 635.3 1281.36 637.9 1282.54 640.4 1283.7 643 1284.85 645.6 1286.01 648.2 1287.16 650.7 1288.31 653.3 1289.46 655.9 1290.61 658.5 1291.76 661.1 1292.91 663.6 1294.06 666.2 1295.21 668.8 1296.36 671.4 1297.51 674 1298.66 676.6 1299.8 679.2 1300.95 681.7 1302.1 684.3 1303.25 686.9 1304.4 689.5 1305.55 692.1 1306.69 694.7 1307.84 697.2 1308.99 699.8 1310.14 702.4 1311.3 705 1312.45 707.6 1313.61 710.1 1314.78 712.7 1315.94 715.3 1317.1 717.9 1318.26 720.4 1319.41 723 1320.55 725.6 1321.68 728.2 1322.79 730.8 1323.89 733.5 1324.97 736.1 1326.04 738.7 1327.09 741.4 1328.13 744.1 1329.15 746.7 1330.15 749.4 1331.14 752.1 1332.1 754.8 1333.05 757.6 1333.99 760.3 1334.9 763 1335.8 765.8 1336.69 768.6 1337.56 771.3 1338.41 774.1 1339.26 776.9 1340.09 779.7 1340.91 782.5 1341.74 785.3 1342.56 788.1 1343.37 790.9 1344.18 793.7 1344.99 796.5 1345.79 799.3 1346.59 802.1 1347.38 804.9 1348.17 807.7 1348.95 810.5 1349.72 813.3 1350.47 816.2 1351.23 819 1351.97 821.8 1352.72 824.7 1353.48 827.5 1354.24 830.3 1355.01 833.1 1355.79 836 1356.59 838.8 1357.41 841.6 1358.22 844.4 1359.04 847.2 1359.86 850 1360.69 852.8 1361.51 855.6 1362.34 858.3 1363.16 861.1 1363.98 863.9 1364.79 866.7 1365.61 869.5 1366.43 872.3 1367.24 875.1 1368.06 877.9 1368.86 880.7 1369.66 883.6 1370.45 886.4 1371.23 889.2 1371.99 892 1372.74 894.8 1373.47 897.7 1374.18 900.5 1374.89 903.4 1375.58 906.2 1376.26 909.1 1376.94 912 1377.62 914.8 1378.29 917.7 1378.96 920.6 1379.63 923.4 1380.31 926.3 1380.98 929.2 1381.64 932 1382.31 934.9 1382.97 937.8 1383.63 940.6 1384.3 943.5 1384.96 946.4 1385.62 949.2 1386.29 952.1 1386.95 955 1387.62 957.8 1388.29 960.7 1388.97 963.6 1389.65 966.4 1390.34 969.3 1391.02 972.2 1391.71 975 1392.4 977.9 1393.09 980.7 1393.78 983.6 1394.47 986.5 1395.16 989.3 1395.86 992.2 1396.55 995 1397.25 997.9 1397.94 1000.7 1398.64 1003.6 1399.33 1006.5 1400.03 1009.3 1400.73 1012.2 1401.43 1015 1402.13 1017.9 1402.83 1020.7 1403.53 1023.6 1404.23 1026.4 1404.93 1029.3 1405.63 1032.1 1406.34 1035 1407.04 1037.8 1407.75 1040.7 1408.46 1043.5 1409.17 1046.4 1409.88 1049.2 1410.59 1052.1 1411.3 1054.9 1412.01 1057.8 1412.72 1060.6 1413.43 1063.5 1414.15 1066.3 1414.87 1069.2 1415.6 1072 1416.33 1074.9 1417.06 1077.7 1417.8 1080.5 1418.53 1083.4 1419.27 1086.2 1420.01 1089.1 1420.75 1091.9 1421.49 1094.7 1422.25 1097.6 1423.05 1100.4 1423.9 1103.1 1424.78 1105.9 1425.7 1108.6 1426.64 1111.4 1427.61 1114.1 1428.59 1116.8 1429.58 1119.5 1430.58 1122.2 1431.61 1124.9 1432.72 1127.5 1433.92 1130 1435.22 1132.5 1436.62 1134.8 1438.13 1137.1 1439.72 1139.2 1441.39 1141.2 1443.09 1143.2 1444.85 1145.1 1446.69 1146.8 1448.67 1148.2 1450.83 1149.1 1453.07 1149.1 1455.24 1148.3 1457.27 1147 1459.18 1145.4 1461.01 1143.6 1462.78 1141.8 1464.54 1139.9 1466.28 1137.9 1467.99 1136 1469.68 1134 1471.33 1132 1472.93 1129.8 1474.47 1127.7 1475.95 1125.4 1477.34 1123 1478.64 1120.6 1479.85 1118 1480.98 1115.4 1482.09 1112.8 1483.2 1110.2 1484.31 1107.6 1485.42 1105 1486.52 1102.4 1487.63 1099.7 1488.74 1097.1 1489.84 1094.5 1490.95 1091.9 1492.06 1089.3 1493.17 1086.7 1494.29 1084.1 1495.41 1081.4 1496.52 1078.8 1497.64 1076.2 1498.76 1073.6 1499.88 1071 1501 1068.4 1502.13 1065.8 1503.29 1063.2 1504.53 1060.7 1505.85 1058.3 1507.24 1055.9 1508.68 1053.6 1510.18 1051.4 1511.73 1049.2 1513.31 1047 1514.92 1044.9 1516.58 1042.9 1518.29 1040.9 1520.04 1039.1 1521.84 1037.2 1523.67 1035.5 1525.53 1033.8 1527.43 1032.2 1529.35 1030.6 1531.29 1029 1533.26 1027.6 1535.26 1026.2 1537.3 1024.9 1539.37 1023.7 1541.47 1022.6 1543.6 1021.6 1545.75 1020.7 1547.93 1019.9 1550.14 1019.3 1552.38 1018.9 1554.63 1018.8 1556.89 1018.9 1559.12 1019.4 1561.32 1020 1563.49 1020.8 1565.61 1021.9 1567.7 1023 1569.77 1024.2 1571.81 1025.5 1573.79 1026.9 1575.71 1028.5 1577.54 1030.3 1579.31 1032.1 1581.06 1034 1582.81 1035.9 1584.55 1037.8 1586.27 1039.8 1587.99 1041.7 1589.68 1043.7 1591.38 1045.7 1593.07 1047.7 1594.74 1049.7" fill="none" stroke="#f00" stroke-width="5.1" stroke-linejoin="round"/></g>
<ellipse cx="263.5" cy="183" rx="12.2" ry="12.9" fill="#f00"/><ellipse cx="363.5" cy="420.9" rx="12.2" ry="12.9" fill="#f00"/><ellipse cx="464.8" cy="1001.8" rx="12.2" ry="12.9" fill="#f00"/><ellipse cx="563.9" cy="958.9" rx="12.2" ry="12.9" fill="#f00"/><ellipse cx="663.4" cy="722.5" rx="12.2" ry="12.9" fill="#f00"/><ellipse cx="764.3" cy="727.7" rx="12.2" ry="12.9" fill="#f00"/><ellipse cx="864.9" cy="799.4" rx="12.2" ry="12.9" fill="#f00"/><ellipse cx="965.7" cy="886.5" rx="12.2" ry="12.9" fill="#f00"/><ellipse cx="1065.5" cy="1170.2" rx="12.2" ry="12.9" fill="#f00"/><ellipse cx="1166" cy="979.4" rx="12.2" ry="12.9" fill="#f00"/><ellipse cx="1266.2" cy="616.7" rx="12.2" ry="12.9" fill="#f00"/><ellipse cx="1365.8" cy="477.5" rx="12.2" ry="12.9" fill="#f00"/><ellipse cx="1466.5" cy="455.7" rx="12.2" ry="12.9" fill="#f00"/><ellipse cx="1567.1" cy="501.6" rx="12.2" ry="12.9" fill="#f00"/><ellipse cx="1666.7" cy="590.3" rx="12.2" ry="12.9" fill="#f00"/><ellipse cx="1768.1" cy="747.5" rx="12.2" ry="12.9" fill="#f00"/><ellipse cx="1868.2" cy="1028.1" rx="12.2" ry="12.9" fill="#f00"/><ellipse cx="1968.8" cy="1117" rx="12.2" ry="12.9" fill="#f00"/><ellipse cx="2067" cy="1018.8" rx="12.2" ry="12.9" fill="#f00"/><ellipse cx="2121" cy="1049.7" rx="12.2" ry="12.9" fill="#f00"/>
<g transform="scale(1.33 1)"><path d="M198.12 188.4 199.27 191 200.4 193.6 201.53 196.2 202.65 198.8 203.77 201.4 204.87 204 205.98 206.6 207.07 209.3 208.16 211.9 209.24 214.5 210.32 217.2 211.39 219.8 212.45 222.5 213.5 225.1 214.56 227.8 215.6 230.5 216.65 233.1 217.68 235.8 218.71 238.5 219.73 241.1 220.74 243.8 221.74 246.5 222.73 249.2 223.7 251.9 224.65 254.7 225.6 257.4 226.52 260.1 227.43 262.9 228.32 265.6 229.2 268.4 230.06 271.2 230.91 274 231.75 276.8 232.57 279.6 233.39 282.4 234.19 285.2 234.99 288 235.78 290.8 236.57 293.6 237.35 296.4 238.11 299.3 238.86 302.1 239.59 304.9 240.31 307.8 241.01 310.6 241.71 313.5 242.41 316.4 243.11 319.2 243.82 322.1 244.54 324.9 245.27 327.7 246.01 330.6 246.75 333.4 247.5 336.3 248.24 339.1 248.99 341.9 249.74 344.8 250.48 347.6 251.23 350.4 251.97 353.3 252.71 356.1 253.45 359 254.18 361.8 254.92 364.6 255.65 367.5 256.38 370.3 257.1 373.2 257.83 376 258.55 378.9 259.27 381.7 259.98 384.6 260.69 387.4 261.39 390.3 262.07 393.1 262.75 396 263.42 398.9 264.08 401.7 264.73 404.6 265.37 407.5 266.01 410.4 266.64 413.3 267.27 416.1 267.89 419 268.51 421.9 269.12 424.8 269.73 427.7 270.34 430.6 270.94 433.5 271.54 436.4 272.14 439.3 272.73 442.2 273.32 445.1 273.91 448 274.5 450.9 275.08 453.8 275.66 456.7 276.23 459.6 276.81 462.5 277.38 465.4 277.94 468.3 278.51 471.2 279.07 474.1 279.63 477 280.19 480 280.74 482.9 281.29 485.8 281.84 488.7 282.39 491.6 282.93 494.5 283.48 497.4 284.01 500.4 284.55 503.3 285.09 506.2 285.62 509.1 286.15 512 286.67 515 287.2 517.9 287.72 520.8 288.24 523.7 288.75 526.7 289.27 529.6 289.78 532.5 290.29 535.4 290.79 538.4 291.3 541.3 291.8 544.2 292.3 547.1 292.8 550.1 293.29 553 293.78 555.9 294.28 558.9 294.76 561.8 295.25 564.7 295.73 567.7 296.22 570.6 296.7 573.5 297.17 576.5 297.65 579.4 298.12 582.4 298.59 585.3 299.06 588.2 299.53 591.2 299.99 594.1 300.45 597.1 300.91 600 301.37 602.9 301.82 605.9 302.27 608.8 302.72 611.8 303.17 614.7 303.61 617.7 304.05 620.6 304.49 623.5 304.92 626.5 305.36 629.4 305.79 632.4 306.21 635.3 306.63 638.3 307.05 641.2 307.47 644.2 307.88 647.2 308.3 650.1 308.7 653.1 309.11 656 309.51 659 309.91 661.9 310.3 664.9 310.69 667.8 311.08 670.8 311.46 673.8 311.84 676.7 312.22 679.7 312.6 682.7 312.98 685.6 313.35 688.6 313.72 691.5 314.09 694.5 314.45 697.5 314.81 700.4 315.17 703.4 315.53 706.4 315.89 709.3 316.24 712.3 316.59 715.3 316.94 718.2 317.28 721.2 317.63 724.2 317.97 727.1 318.31 730.1 318.64 733.1 318.97 736.1 319.3 739 319.63 742 319.96 745 320.28 747.9 320.6 750.9 320.91 753.9 321.23 756.9 321.54 759.8 321.85 762.8 322.16 765.8 322.46 768.8 322.76 771.8 323.06 774.7 323.35 777.7 323.64 780.7 323.93 783.7 324.22 786.6 324.5 789.6 324.79 792.6 325.07 795.6 325.36 798.6 325.64 801.5 325.93 804.5 326.21 807.5 326.49 810.5 326.77 813.5 327.05 816.4 327.33 819.4 327.61 822.4 327.89 825.4 328.16 828.4 328.44 831.4 328.71 834.3 328.99 837.3 329.26 840.3 329.53 843.3 329.8 846.3 330.07 849.3 330.34 852.2 330.6 855.2 330.87 858.2 331.13 861.2 331.39 864.2 331.65 867.2 331.91 870.1 332.17 873.1 332.42 876.1 332.68 879.1 332.93 882.1 333.18 885.1 333.44 888 333.69 891 333.95 894 334.2 897 334.45 900 334.7 903 334.95 906 335.2 908.9 335.45 911.9 335.7 914.9 335.94 917.9 336.19 920.9 336.43 923.9 336.67 926.9 336.91 929.8 337.14 932.8 337.38 935.8 337.61 938.8 337.84 941.8 338.07 944.8 338.3 947.8 338.53 950.8 338.75 953.8 338.98 956.7 339.21 959.7 339.43 962.7 339.66 965.7 339.88 968.7 340.11 971.7 340.33 974.7 340.55 977.7 340.77 980.7 341 983.6 341.22 986.6 341.44 989.6 341.66 992.6 341.88 995.6 342.1 998.6 342.32 1001.6 342.54 1004.6 342.75 1007.6 342.97 1010.6 343.19 1013.5 343.4 1016.5 343.62 1019.5 343.83 1022.5 344.04 1025.5 344.26 1028.5 344.47 1031.5 344.68 1034.5 344.9 1037.5 345.11 1040.5 345.32 1043.5 345.54 1046.4 345.75 1049.4 345.97 1052.4 346.18 1055.4 346.4 1058.4 346.61 1061.4 346.83 1064.4 347.05 1067.4 347.27 1070.4 347.49 1073.4 347.71 1076.3 347.94 1079.3 348.16 1082.3 348.39 1085.3 348.62 1088.3 348.85 1091.3 349.08 1094.3 349.31 1097.3 349.54 1100.3 349.77 1103.2 350 1106.2 350.23 1109.2 350.47 1112.2 350.7 1115.2 350.93 1118.2 351.18 1121.2 351.43 1124.2 351.68 1127.1 351.94 1130.1 352.19 1133.1 352.45 1136.1 352.71 1139.1 352.97 1142.1 353.23 1145 353.48 1148 353.73 1151 353.98 1154 354.22 1157 354.45 1160 354.67 1163 354.89 1166 355.1 1168.9 355.31 1171.9 355.52 1174.9 355.72 1177.9 355.92 1180.9 356.12 1183.9 356.32 1186.9 356.51 1189.9 356.7 1192.9 356.89 1195.9 357.07 1198.9 357.26 1201.9 357.44 1204.9 357.62 1207.9 357.81 1210.9 357.99 1213.8 358.17 1216.8 358.34 1219.8 358.52 1222.8 358.7 1225.8 358.88 1228.8 359.06 1231.8 359.24 1234.8 359.41 1237.8 359.59 1240.8 359.77 1243.8 359.95 1246.8 360.12 1249.8 360.3 1252.8 360.48 1255.8 360.66 1258.8 360.83 1261.8 361.01 1264.8 361.19 1267.8 361.37 1270.7 361.55 1273.7 361.72 1276.7 361.9 1279.7 362.08 1282.7 362.26 1285.7 362.44 1288.7 362.63 1291.7 362.81 1294.7 362.99 1297.7 363.17 1300.7 363.36 1303.7 363.54 1306.7 363.72 1309.7 363.91 1312.7 364.09 1315.7 364.28 1318.7 364.47 1321.7 364.65 1324.6 364.84 1327.6 365.02 1330.6 365.21 1333.6 365.4 1336.6 365.58 1339.6 365.77 1342.6 365.96 1345.6 366.15 1348.6 366.34 1351.6 366.54 1354.6 366.73 1357.6 366.93 1360.6 367.13 1363.6 367.33 1366.6 367.53 1369.5 367.73 1372.5 367.94 1375.5 368.15 1378.5 368.36 1381.5 368.57 1384.5 368.79 1387.5 369.01 1390.5 369.23 1393.5 369.45 1396.5 369.68 1399.4 369.91 1402.4 370.14 1405.4 370.4 1408.4 370.67 1411.4 370.95 1414.4 371.25 1417.3 371.55 1420.3 371.86 1423.3 372.17 1426.3 372.48 1429.3 372.79 1432.2 373.09 1435.2 373.4 1438.2 373.72 1441.2 374.05 1444.1 374.41 1447.1 374.77 1450.1 375.16 1453 375.82 1455.9 376.81 1458.6 377.96 1461.2 378.12 1461.5 379.4 1459.5 380.77 1457.1 381.92 1454.6 382.63 1451.7 382.94 1448.7 383.24 1445.8 383.53 1442.8 383.82 1439.8 384.1 1436.8 384.37 1433.8 384.65 1430.9 384.92 1427.9 385.18 1424.9 385.45 1421.9 385.71 1418.9 385.98 1415.9 386.24 1413 386.51 1410 386.77 1407 387.04 1404 387.3 1401 387.57 1398 387.84 1395.1 388.11 1392.1 388.38 1389.1 388.64 1386.1 388.91 1383.1 389.17 1380.1 389.44 1377.2 389.69 1374.2 389.94 1371.2 390.19 1368.2 390.43 1365.2 390.67 1362.2 390.92 1359.2 391.16 1356.3 391.41 1353.3 391.66 1350.3 391.91 1347.3 392.16 1344.3 392.42 1341.3 392.68 1338.3 392.93 1335.4 393.19 1332.4 393.45 1329.4 393.7 1326.4 393.96 1323.4 394.22 1320.4 394.47 1317.4 394.73 1314.5 394.99 1311.5 395.24 1308.5 395.5 1305.5 395.76 1302.5 396.01 1299.5 396.27 1296.6 396.52 1293.6 396.78 1290.6 397.03 1287.6 397.29 1284.6 397.54 1281.6 397.8 1278.6 398.05 1275.7 398.3 1272.7 398.56 1269.7 398.81 1266.7 399.06 1263.7 399.32 1260.7 399.57 1257.8 399.82 1254.8 400.08 1251.8 400.33 1248.8 400.59 1245.8 400.84 1242.8 401.09 1239.8 401.35 1236.9 401.6 1233.9 401.86 1230.9 402.11 1227.9 402.37 1224.9 402.63 1221.9 402.9 1218.9 403.16 1216 403.44 1213 403.71 1210 403.99 1207 404.28 1204 404.57 1201.1 404.87 1198.1 405.17 1195.1 405.47 1192.1 405.77 1189.2 406.07 1186.2 406.37 1183.2 406.68 1180.2 406.97 1177.2 407.27 1174.3 407.56 1171.3 407.85 1168.3 408.14 1165.3 408.42 1162.3 408.71 1159.4 408.99 1156.4 409.28 1153.4 409.57 1150.4 409.85 1147.4 410.14 1144.5 410.42 1141.5 410.71 1138.5 410.99 1135.5 411.28 1132.5 411.56 1129.6 411.84 1126.6 412.13 1123.6 412.41 1120.6 412.69 1117.6 412.98 1114.7 413.26 1111.7 413.55 1108.7 413.83 1105.7 414.12 1102.7 414.41 1099.8 414.72 1096.8 415.04 1093.8 415.37 1090.8 415.7 1087.9 416.04 1084.9 416.39 1081.9 416.74 1079 417.1 1076 417.47 1073 417.83 1070.1 418.2 1067.1 418.57 1064.1 418.95 1061.2 419.34 1058.2 419.74 1055.3 420.15 1052.3 420.58 1049.4 421.01 1046.4 421.45 1043.5 421.89 1040.5 422.35 1037.6 422.8 1034.6 423.26 1031.7 423.73 1028.8 424.2 1025.8 424.68 1022.9 425.18 1020 425.69 1017 426.22 1014.1 426.77 1011.2 427.32 1008.3 427.89 1005.4 428.47 1002.5 429.05 999.6 429.65 996.7 430.27 993.8 430.91 990.9 431.58 988 432.28 985.2 433.01 982.3 433.78 979.5 434.57 976.7 435.41 973.9 436.28 971.1 437.2 968.4 438.15 965.7 439.14 963 440.15 960.3 441.19 957.6 442.25 955 443.34 952.3 444.44 949.7 445.56 947.1 446.66 944.5 447.75 941.8 448.8 939.2 449.81 936.5 450.79 933.8 451.73 931.1 452.66 928.3 453.58 925.6 454.5 922.8 455.43 920.1 456.38 917.4 457.37 914.7 458.39 912 459.44 909.3 460.52 906.7 461.64 904.1 462.81 901.5 464.03 899 465.29 896.5 466.6 894 467.94 891.6 469.31 889.2 470.7 886.9 472.11 884.5 473.53 882.2 474.98 879.9 476.43 877.6 477.9 875.3 479.38 873 480.86 870.8 482.35 868.5 483.85 866.3 485.38 864 486.96 861.9 488.6 859.8 490.32 857.9 492.12 856.1 493.98 854.4 495.91 852.8 497.87 851.3 499.88 849.9 501.9 848.6 503.95 847.3 506.01 846.1 508.08 844.9 510.15 843.7 512.24 842.6 514.34 841.5 516.45 840.4 518.58 839.4 520.71 838.4 522.87 837.5 525.03 836.6 527.22 835.9 529.43 835.3 531.65 834.8 533.9 834.4 536.15 834.2 538.41 834.1 540.67 834.2 542.92 834.3 545.17 834.6 547.42 834.9 549.66 835.2 551.9 835.6 554.14 836 556.38 836.4 558.61 836.8 560.84 837.3 563.07 837.9 565.28 838.4 567.49 839.1 569.68 839.8 571.85 840.6 574 841.6 576.14 842.5 578.26 843.6 580.38 844.6 582.49 845.7 584.59 846.8 586.68 847.9 588.76 849.1 590.83 850.3 592.88 851.5 594.93 852.8 596.96 854.1 598.97 855.5 600.97 856.9 602.95 858.3 604.92 859.8 606.86 861.3 608.79 862.9 610.7 864.5 612.58 866.2 614.44 867.9 616.28 869.6 618.1 871.4 619.91 873.2 621.72 875 623.53 876.8 625.34 878.6 627.14 880.4 628.94 882.2 630.74 884 632.53 885.9 634.33 887.7 636.13 889.5 637.92 891.3 639.72 893.1 641.52 895 643.31 896.8 645.11 898.6 646.91 900.4 648.72 902.2 650.52 904 652.33 905.8 654.14 907.6 655.96 909.4 657.77 911.2 659.6 913 661.42 914.7 663.24 916.5 665.07 918.3 666.89 920.1 668.71 921.8 670.54 923.6 672.36 925.4 674.19 927.2 676.01 928.9 677.84 930.7 679.66 932.5 681.49 934.2 683.32 936 685.15 937.8 686.98 939.5 688.82 941.3 690.66 943 692.5 944.7 694.35 946.5 696.2 948.2 698.06 949.9 699.93 951.6 701.85 953.2 703.83 954.6 705.88 955.9 707.96 957 710.08 958.1 712.21 959.1 714.36 960 716.5 960.9 718.66 961.8 720.83 962.7 723.01 963.4 725.21 964.1 727.41 964.8 729.63 965.4 731.86 965.8 734.11 966.1 736.37 966.2 738.63 966.1 740.87 965.8 743.1 965.3 745.32 964.7 747.52 964 749.69 963.2 751.83 962.3 753.93 961.2 755.97 959.9 757.99 958.5 759.98 957.1 761.94 955.6 763.87 954.1 765.77 952.4 767.63 950.7 769.49 949 771.34 947.3 773.18 945.6 775.02 943.8 776.86 942.1 778.73 940.4 780.56 938.6 782.33 936.8 783.97 934.7 785.53 932.5 787.05 930.3 788.56 928.1 790.04 925.8 791.5 923.5 792.96 921.2 794.4 918.9 795.84 916.6 797.28 914.3 798.73 912 800.17 909.7 801.63 907.4 803.08 905.1 804.53 902.8 805.98 900.5 807.44 898.2 808.89 895.9 810.34 893.6 811.79 891.3 813.24 889 814.69 886.6 816.14 884.3 817.58 882 819.03 879.7 820.47 877.4 821.91 875.1 823.35 872.8 824.79 870.5 826.23 868.2 827.66 865.8 829.08 863.5 830.49 861.1 831.88 858.8 833.27 856.4 834.64 854 836 851.6 837.36 849.2 838.71 846.8 840.05 844.4 841.38 842 842.71 839.5 844.03 837.1 845.36 834.7 846.67 832.2 847.99 829.8 849.3 827.3 850.61 824.9 851.93 822.5 853.24 820 854.56 817.6 855.88 815.1 857.2 812.7 858.53 810.3 859.86 807.8 861.2 805.4 862.54 803 863.89 800.6 865.25 798.2 866.62 795.8 868 793.4 869.39 791.1 870.8 788.7 872.21 786.4 873.65 784.1 875.09 781.7 876.55 779.5 878.02 777.2 879.51 774.9 881.01 772.7 882.52 770.4 884.04 768.2 885.58 766 887.12 763.8 888.68 761.6 890.25 759.5 891.84 757.3 893.43 755.2 895.03 753.1 896.65 751 898.27 748.9 899.9 746.8 901.55 744.8 903.2 742.7 904.86 740.7 906.54 738.7 908.22 736.7 909.9 734.7 911.62 732.7 913.36 730.8 915.13 728.9 916.94 727.1 918.77 725.4 920.63 723.7 922.52 722 924.44 720.4 926.38 718.9 928.35 717.4 930.35 716 932.36 714.7 934.4 713.4 936.46 712.2 938.54 711 940.64 709.9 942.76 708.8 944.89 707.8 947.04 706.9 949.2 706 951.38 705.2 953.57 704.5 955.79 703.9 958.02 703.5 960.27 703.2 962.53 703.1 964.78 703 967.04 703 969.3 703.1 971.56 703.2 973.81 703.4 976.07 703.6 978.32 703.9 980.56 704.2 982.8 704.6 985.03 705.1 987.24 705.7 989.43 706.4 991.59 707.3 993.72 708.3 995.83 709.3 997.92 710.5 1000 711.7 1002.05 712.9 1004.08 714.2 1006.1 715.6 1008.09 717 1010.05 718.5 1012 720 1013.92 721.6 1015.81 723.2 1017.68 724.9 1019.53 726.7 1021.35 728.4 1023.14 730.3 1024.91 732.1 1026.66 734 1028.38 736 1030.07 738 1031.75 740 1033.39 742 1035.02 744.1 1036.63 746.2 1038.23 748.4 1039.82 750.5 1041.41 752.6 1042.99 754.8 1044.57 756.9 1046.13 759.1 1047.69 761.3 1049.24 763.4 1050.78 765.6 1052.3 767.9 1053.82 770.1 1055.33 772.3 1056.82 774.6 1058.3 776.8 1059.77 779.1 1061.23 781.4 1062.67 783.7 1064.1 786.1 1065.51 788.4 1066.91 790.8 1068.29 793.1 1069.66 795.5 1071 797.9 1072.34 800.4 1073.65 802.8 1074.94 805.3 1076.22 807.8 1077.48 810.2 1078.72 812.8 1079.95 815.3 1081.17 817.8 1082.38 820.3 1083.59 822.9 1084.79 825.4 1085.98 828 1087.17 830.5 1088.36 833.1 1089.54 835.7 1090.71 838.2 1091.88 840.8 1093.05 843.4 1094.22 845.9 1095.38 848.5 1096.54 851.1 1097.7 853.7 1098.86 856.2 1100.02 858.8 1101.18 861.4 1102.33 864 1103.49 866.6 1104.65 869.1 1105.82 871.7 1106.98 874.3 1108.15 876.9 1109.32 879.4 1110.49 882 1111.66 884.6 1112.85 887.1 1114.03 889.7 1115.22 892.2 1116.42 894.8 1117.62 897.3 1118.83 899.9 1120.04 902.4 1121.25 904.9 1122.45 907.5 1123.66 910 1124.86 912.6 1126.07 915.1 1127.27 917.6 1128.48 920.2 1129.69 922.7 1130.9 925.2 1132.12 927.8 1133.35 930.3 1134.58 932.8 1135.81 935.3 1137.06 937.8 1138.31 940.3 1139.58 942.8 1140.85 945.3 1142.14 947.8 1143.43 950.2 1144.74 952.7 1146.07 955.1 1147.4 957.5 1148.75 959.9 1150.12 962.3 1151.5 964.7 1152.89 967.1 1154.3 969.4 1155.72 971.8 1157.16 974.1 1158.62 976.4 1160.09 978.7 1161.58 980.9 1163.1 983.1 1164.65 985.3 1166.25 987.4 1167.87 989.5 1169.53 991.6 1171.23 993.5 1172.96 995.5 1174.73 997.3 1176.54 999.2 1178.38 1000.9 1180.26 1002.5 1182.18 1004.1 1184.14 1005.6 1186.14 1007 1188.18 1008.3 1190.27 1009.5 1192.39 1010.5 1194.55 1011.3 1196.75 1012 1198.98 1012.5 1201.22 1012.8 1203.48 1012.9 1205.74 1012.7 1207.98 1012.4 1210.2 1011.9 1212.41 1011.2 1214.58 1010.4 1216.73 1009.4 1218.84 1008.4 1220.93 1007.3 1223 1006 1225.03 1004.7 1227.04 1003.4 1229.03 1001.9 1230.99 1000.5 1232.93 998.9 1234.86 997.3 1236.76 995.7 1238.64 994.1 1240.51 992.4 1242.36 990.7 1244.2 988.9 1246.02 987.1 1247.82 985.3 1249.6 983.5 1251.36 981.6 1253.1 979.7 1254.82 977.7 1256.52 975.7 1258.2 973.7 1259.88 971.7 1261.54 969.7 1263.19 967.6 1264.84 965.6 1266.48 963.5 1268.13 961.5 1269.77 959.4 1271.42 957.4 1273.08 955.3 1274.74 953.3 1276.42 951.3 1278.11 949.3 1279.82 947.3 1281.55 945.4 1283.3 943.5 1285.07 941.6 1286.87 939.8 1288.68 938 1290.49 936.2 1292.31 934.4 1294.13 932.7 1295.96 930.9 1297.8 929.1 1299.64 927.4 1301.5 925.7 1303.37 924 1305.25 922.3 1307.14 920.7 1309.04 919.1 1310.96 917.5 1312.9 916 1314.85 914.4 1316.82 913 1318.8 911.5 1320.8 910.1 1322.82 908.8 1324.85 907.5 1326.9 906.2 1328.97 905 1331.06 903.9 1333.2 902.9 1335.38 902.1 1337.59 901.5 1339.82 901 1342.06 900.6 1344.31 900.4 1346.56 900.2 1348.82 900 1351.08 900 1353.34 899.9 1355.59 900 1357.85 900.1 1360.1 900.3 1362.34 900.7 1364.57 901.2 1366.77 901.8 1368.95 902.7 1371.08 903.6 1373.18 904.7 1375.26 905.9 1377.32 907.2 1379.34 908.5 1381.34 909.9 1383.3 911.4 1385.24 912.9 1387.14 914.5 1389.01 916.2 1390.86 918 1392.68 919.7 1394.47 921.6 1396.25 923.4 1398.02 925.3 1399.77 927.2 1401.5 929.1 1403.22 931.1 1404.92 933 1406.59 935.1 1408.23 937.1 1409.84 939.2 1411.41 941.4 1412.95 943.6 1414.48 945.8 1416 948 1417.51 950.3 1419.01 952.5 1420.49 954.8 1421.95 957.1 1423.38 959.4 1424.79 961.7 1426.17 964.1 1427.51 966.5 1428.82 969 1430.08 971.5 1431.32 974 1432.55 976.5 1433.78 979 1435 981.5 1436.22 984.1 1437.43 986.6 1438.64 989.2 1439.84 991.7 1441.03 994.2 1442.22 996.8 1443.4 999.4 1444.58 1001.9 1445.74 1004.5 1446.9 1007.1 1448.05 1009.7 1449.19 1012.3 1450.34 1014.8 1451.5 1017.4 1452.66 1020 1453.83 1022.6 1455.01 1025.1 1456.2 1027.7 1457.4 1030.2 1458.61 1032.8 1459.82 1035.3 1461.04 1037.8 1462.27 1040.3 1463.51 1042.9 1464.76 1045.4 1466.02 1047.9 1467.29 1050.3 1468.57 1052.8 1469.86 1055.3 1471.16 1057.7 1472.47 1060.2 1473.8 1062.6 1475.14 1065 1476.49 1067.4 1477.85 1069.8 1479.21 1072.2 1480.59 1074.6 1481.97 1077 1483.35 1079.4 1484.73 1081.8 1486.11 1084.1 1487.48 1086.5 1488.83 1088.9 1490.11 1091.4 1491.38 1093.9 1492.73 1096.3 1494.21 1098.6 1495.84 1100.6 1497.6 1102.5 1499.51 1104.1 1501.56 1105.4 1503.72 1106.3 1505.95 1106.8 1508.2 1106.9 1510.45 1106.7 1512.67 1106.2 1514.81 1105.2 1516.84 1103.9 1518.76 1102.3 1520.57 1100.5 1522.31 1098.6 1523.95 1096.5 1525.5 1094.3 1526.96 1092.1 1528.36 1089.7 1529.73 1087.3 1531.1 1084.9 1532.46 1082.5 1533.79 1080.1 1535.09 1077.6 1536.32 1075.1 1537.48 1072.5 1538.57 1069.9 1539.64 1067.3 1540.7 1064.6 1541.77 1062 1542.84 1059.3 1543.91 1056.7 1544.98 1054 1546.04 1051.4 1547.11 1048.7 1548.17 1046.1 1549.24 1043.4 1550.3 1040.8 1551.36 1038.1 1552.42 1035.5 1553.48 1032.8 1554.54 1030.2 1555.59 1027.5 1556.65 1024.9 1557.71 1022.2 1558.76 1019.6 1559.82 1016.9 1560.88 1014.2 1561.94 1011.6 1563 1008.9 1564.07 1006.3 1565.14 1003.6 1566.22 1001 1567.3 998.4 1568.39 995.7 1569.49 993.1 1570.58 990.5 1571.68 987.9 1572.79 985.2 1573.89 982.6 1574.99 980 1576.1 977.4 1577.2 974.8 1578.31 972.1 1579.41 969.5 1580.52 966.9 1581.62 964.3 1582.73 961.7 1583.84 959 1584.95 956.4 1586.06 953.8 1587.18 951.2 1588.29 948.6 1589.41 946 1590.57 943.4 1591.88 941 1593.28 938.6 1594.74 936.3" fill="none" stroke="#00f" stroke-width="5.1" stroke-linejoin="round"/></g>
<rect x="252.8" y="177.5" width="21.3" height="21.8" fill="#fff" stroke="#00f" stroke-width="1.6"/><rect x="307.3" y="292" width="21.3" height="21.8" fill="#fff" stroke="#00f" stroke-width="1.6"/><rect x="363.9" y="476.6" width="21.3" height="21.8" fill="#fff" stroke="#00f" stroke-width="1.6"/><rect x="420.4" y="774.2" width="21.3" height="21.8" fill="#fff" stroke="#00f" stroke-width="1.6"/><rect x="475.4" y="1327.2" width="21.3" height="21.8" fill="#fff" stroke="#00f" stroke-width="1.6"/><rect x="531.6" y="1158.7" width="21.3" height="21.8" fill="#fff" stroke="#00f" stroke-width="1.6"/><rect x="586.3" y="928.3" width="21.3" height="21.8" fill="#fff" stroke="#00f" stroke-width="1.6"/><rect x="641.8" y="846.7" width="21.3" height="21.8" fill="#fff" stroke="#00f" stroke-width="1.6"/><rect x="697.4" y="823.7" width="21.3" height="21.8" fill="#fff" stroke="#00f" stroke-width="1.6"/><rect x="753.3" y="830.8" width="21.3" height="21.8" fill="#fff" stroke="#00f" stroke-width="1.6"/><rect x="809.6" y="859.1" width="21.3" height="21.8" fill="#fff" stroke="#00f" stroke-width="1.6"/><rect x="865.1" y="901" width="21.3" height="21.8" fill="#fff" stroke="#00f" stroke-width="1.6"/><rect x="920.3" y="940.7" width="21.3" height="21.8" fill="#fff" stroke="#00f" stroke-width="1.6"/><rect x="977.8" y="954.4" width="21.3" height="21.8" fill="#fff" stroke="#00f" stroke-width="1.6"/><rect x="1031.8" y="924.1" width="21.3" height="21.8" fill="#fff" stroke="#00f" stroke-width="1.6"/><rect x="1088.6" y="856.8" width="21.3" height="21.8" fill="#fff" stroke="#00f" stroke-width="1.6"/><rect x="1143.5" y="783" width="21.3" height="21.8" fill="#fff" stroke="#00f" stroke-width="1.6"/><rect x="1199.1" y="724.1" width="21.3" height="21.8" fill="#fff" stroke="#00f" stroke-width="1.6"/><rect x="1255.7" y="694.1" width="21.3" height="21.8" fill="#fff" stroke="#00f" stroke-width="1.6"/><rect x="1310.7" y="697.3" width="21.3" height="21.8" fill="#fff" stroke="#00f" stroke-width="1.6"/><rect x="1366.4" y="733.7" width="21.3" height="21.8" fill="#fff" stroke="#00f" stroke-width="1.6"/><rect x="1423.6" y="801.2" width="21.3" height="21.8" fill="#fff" stroke="#00f" stroke-width="1.6"/><rect x="1477.4" y="889" width="21.3" height="21.8" fill="#fff" stroke="#00f" stroke-width="1.6"/><rect x="1533.3" y="968.9" width="21.3" height="21.8" fill="#fff" stroke="#00f" stroke-width="1.6"/><rect x="1588.7" y="1002" width="21.3" height="21.8" fill="#fff" stroke="#00f" stroke-width="1.6"/><rect x="1645.1" y="977.3" width="21.3" height="21.8" fill="#fff" stroke="#00f" stroke-width="1.6"/><rect x="1701" y="928.8" width="21.3" height="21.8" fill="#fff" stroke="#00f" stroke-width="1.6"/><rect x="1757.5" y="893.8" width="21.3" height="21.8" fill="#fff" stroke="#00f" stroke-width="1.6"/><rect x="1811.9" y="892.4" width="21.3" height="21.8" fill="#fff" stroke="#00f" stroke-width="1.6"/><rect x="1868" y="932" width="21.3" height="21.8" fill="#fff" stroke="#00f" stroke-width="1.6"/><rect x="1923.5" y="1012.6" width="21.3" height="21.8" fill="#fff" stroke="#00f" stroke-width="1.6"/><rect x="1979.6" y="1090.4" width="21.3" height="21.8" fill="#fff" stroke="#00f" stroke-width="1.6"/><rect x="2035" y="1060.2" width="21.3" height="21.8" fill="#fff" stroke="#00f" stroke-width="1.6"/><rect x="2090.7" y="957.3" width="21.3" height="21.8" fill="#fff" stroke="#00f" stroke-width="1.6"/><rect x="2110.3" y="925.4" width="21.3" height="21.8" fill="#fff" stroke="#00f" stroke-width="1.6"/>
</g>
<g font-size="76">
<text x="231" y="71.2" text-anchor="end">0</text><text x="231" y="324.7" text-anchor="end">-5</text><text x="231" y="578.2" text-anchor="end">-10</text><text x="231" y="831.6" text-anchor="end">-15</text><text x="231" y="1085.1" text-anchor="end">-20</text><text x="231" y="1338.6" text-anchor="end">-25</text><text x="231" y="1592" text-anchor="end">-30</text>
<text x="263.2" y="1659" text-anchor="middle">2</text><text x="634.7" y="1659" text-anchor="middle">4</text><text x="1006.2" y="1659" text-anchor="middle">6</text><text x="1377.7" y="1659" text-anchor="middle">8</text><text x="1751.7" y="1659" text-anchor="middle">10</text><text x="2123.2" y="1659" text-anchor="middle">12</text>
<text id="xt" x="1193.2" y="1785.5" text-anchor="middle" textLength="525">Frequency (GHz)</text>
<text transform="translate(82.7 943.8) rotate(-90)" textLength="268.2">S<tspan font-size="66" dy="19.3">11</tspan><tspan dy="-19.3"> (dB)</tspan></text>
<rect x="1341" y="1296.6" width="177.5" height="5.6" fill="#000"/><rect x="1418" y="1288.1" width="22.0" height="22.6" fill="#000"/><text id="lg0" x="1533.8" y="1324.2" textLength="195.6">Step-1</text>
<rect x="1341" y="1391.4" width="177.5" height="5.6" fill="#f00"/><ellipse cx="1429" cy="1394.2" rx="12.2" ry="12.9" fill="#f00"/><text id="lg1" x="1533.8" y="1419" textLength="197.9">Step-2</text>
<rect x="1341" y="1486.1" width="177.5" height="5.6" fill="#00f"/><rect x="1418.3" y="1478" width="21.3" height="21.8" fill="#fff" stroke="#00f" stroke-width="1.6"/><text id="lg2" x="1533.8" y="1513.7" textLength="545.8">Step-3 (Proposed)</text>
</g>
</svg>
</body></html>
